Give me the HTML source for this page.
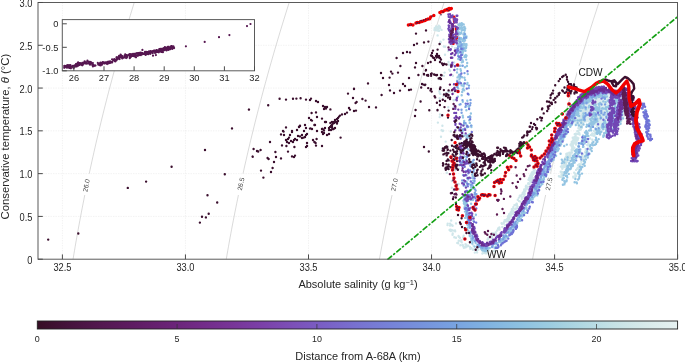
<!DOCTYPE html>
<html><head><meta charset="utf-8"><style>
html,body{margin:0;padding:0;background:#fff;}
body{width:685px;height:362px;overflow:hidden;}
svg{display:block;}
text{font-family:"Liberation Sans", Arial, sans-serif;fill:#262626;}
.g{stroke:#ededed;stroke-width:0.7;stroke-dasharray:1.4 1.1;fill:none;}
.iso{stroke:#b4b4b4;stroke-width:0.5;fill:none;}
.isol{font-size:6.6px;fill:#444;}
.tk{stroke:#4a4a4a;stroke-width:1;}
.tl{font-size:9.3px;}
.tc{font-size:9.4px;}
.al{font-size:11px;}
.lab{font-size:10.1px;fill:#111;}
</style></head><body>
<svg width="685" height="362" viewBox="0 0 685 362">
<line x1="62.40" y1="2.5" x2="62.40" y2="259.2" class="g"/>
<line x1="185.45" y1="2.5" x2="185.45" y2="259.2" class="g"/>
<line x1="308.50" y1="2.5" x2="308.50" y2="259.2" class="g"/>
<line x1="431.55" y1="2.5" x2="431.55" y2="259.2" class="g"/>
<line x1="554.60" y1="2.5" x2="554.60" y2="259.2" class="g"/>
<line x1="38.0" y1="216.41" x2="677.5" y2="216.41" class="g"/>
<line x1="38.0" y1="173.63" x2="677.5" y2="173.63" class="g"/>
<line x1="38.0" y1="130.84" x2="677.5" y2="130.84" class="g"/>
<line x1="38.0" y1="88.06" x2="677.5" y2="88.06" class="g"/>
<line x1="38.0" y1="45.28" x2="677.5" y2="45.28" class="g"/>
<polyline class="iso" clip-path="url(#clipax)" points="72.37,263.48 73.07,259.20 73.77,254.92 74.49,250.64 75.21,246.36 75.95,242.09 76.70,237.81 77.46,233.53 78.23,229.25 79.01,224.97 79.80,220.69 80.61,216.41 81.42,212.14 82.24,207.86 83.08,203.58 83.93,199.30 84.78,195.02"/>
<polyline class="iso" clip-path="url(#clipax)" points="89.23,173.63 90.15,169.35 91.08,165.07 92.02,160.79 92.97,156.52 93.94,152.24 94.91,147.96 95.89,143.68 96.89,139.40 97.90,135.12 98.91,130.85 99.94,126.57 100.98,122.29 102.02,118.01 103.08,113.73 104.15,109.45 105.23,105.17 106.32,100.90 107.42,96.62 108.53,92.34 109.65,88.06 110.79,83.78 111.93,79.50 113.08,75.22 114.24,70.95 115.42,66.67 116.60,62.39 117.79,58.11 119.00,53.83 120.21,49.55 121.44,45.28 122.68,41.00 123.92,36.72 125.18,32.44 126.44,28.16 127.72,23.88 129.01,19.60 130.31,15.33 131.61,11.05 132.93,6.77 134.26,2.49 135.60,-1.79"/>
<text class="isol" transform="translate(86.3,185.4) rotate(-78.3)" text-anchor="middle" dy="2.3">26.0</text>
<polyline class="iso" clip-path="url(#clipax)" points="225.54,263.48 226.27,259.20 227.00,254.92 227.75,250.64 228.50,246.36 229.27,242.09 230.05,237.81 230.84,233.53 231.64,229.25 232.45,224.97 233.28,220.69 234.11,216.41 234.95,212.14 235.81,207.86 236.67,203.58 237.55,199.30 238.43,195.02"/>
<polyline class="iso" clip-path="url(#clipax)" points="243.02,173.63 243.97,169.35 244.93,165.07 245.91,160.79 246.89,156.52 247.88,152.24 248.88,147.96 249.90,143.68 250.92,139.40 251.96,135.12 253.00,130.85 254.06,126.57 255.12,122.29 256.20,118.01 257.29,113.73 258.38,109.45 259.49,105.17 260.61,100.90 261.74,96.62 262.88,92.34 264.03,88.06 265.19,83.78 266.36,79.50 267.54,75.22 268.73,70.95 269.93,66.67 271.15,62.39 272.37,58.11 273.60,53.83 274.84,49.55 276.10,45.28 277.36,41.00 278.63,36.72 279.92,32.44 281.21,28.16 282.52,23.88 283.83,19.60 285.16,15.33 286.49,11.05 287.84,6.77 289.19,2.49 290.56,-1.79"/>
<text class="isol" transform="translate(240.9,184.0) rotate(-77.9)" text-anchor="middle" dy="2.3">26.5</text>
<polyline class="iso" clip-path="url(#clipax)" points="378.68,263.48 379.44,259.20 380.21,254.92 380.98,250.64 381.77,246.36 382.57,242.09 383.38,237.81 384.20,233.53 385.03,229.25 385.87,224.97 386.72,220.69 387.58,216.41 388.46,212.14 389.34,207.86 390.23,203.58 391.14,199.30 392.06,195.02"/>
<polyline class="iso" clip-path="url(#clipax)" points="396.79,173.63 397.77,169.35 398.76,165.07 399.76,160.79 400.77,156.52 401.80,152.24 402.83,147.96 403.87,143.68 404.92,139.40 405.99,135.12 407.06,130.85 408.15,126.57 409.24,122.29 410.35,118.01 411.46,113.73 412.59,109.45 413.72,105.17 414.87,100.90 416.03,96.62 417.20,92.34 418.37,88.06 419.56,83.78 420.76,79.50 421.97,75.22 423.19,70.95 424.42,66.67 425.66,62.39 426.91,58.11 428.17,53.83 429.44,49.55 430.72,45.28 432.02,41.00 433.32,36.72 434.63,32.44 435.95,28.16 437.28,23.88 438.63,19.60 439.98,15.33 441.34,11.05 442.71,6.77 444.10,2.49 445.49,-1.79"/>
<text class="isol" transform="translate(394.3,184.8) rotate(-77.5)" text-anchor="middle" dy="2.3">27.0</text>
<polyline class="iso" clip-path="url(#clipax)" points="531.80,263.48 532.59,259.20 533.38,254.92 534.19,250.64 535.01,246.36 535.84,242.09 536.67,237.81 537.52,233.53 538.38,229.25 539.26,224.97 540.14,220.69 541.03,216.41 541.93,212.14 542.85,207.86 543.77,203.58 544.70,199.30 545.65,195.02"/>
<polyline class="iso" clip-path="url(#clipax)" points="550.53,173.63 551.54,169.35 552.56,165.07 553.59,160.79 554.63,156.52 555.68,152.24 556.74,147.96 557.81,143.68 558.90,139.40 559.99,135.12 561.09,130.85 562.21,126.57 563.33,122.29 564.46,118.01 565.61,113.73 566.76,109.45 567.93,105.17 569.10,100.90 570.29,96.62 571.48,92.34 572.69,88.06 573.91,83.78 575.13,79.50 576.37,75.22 577.62,70.95 578.88,66.67 580.14,62.39 581.42,58.11 582.71,53.83 584.01,49.55 585.32,45.28 586.64,41.00 587.97,36.72 589.31,32.44 590.66,28.16 592.02,23.88 593.39,19.60 594.77,15.33 596.16,11.05 597.56,6.77 598.97,2.49 600.39,-1.79"/>
<text class="isol" transform="translate(548.9,183.9) rotate(-77.1)" text-anchor="middle" dy="2.3">27.5</text>
<defs><clipPath id="clipax"><rect x="38" y="2.5" width="639.5" height="256.7"/></clipPath></defs><g clip-path="url(#clipax)"><polyline points="454.0,17.0 454.5,22.0" stroke="#f20000" stroke-width="3.0" fill="none" stroke-linecap="round" stroke-linejoin="round"/>
<polyline points="456.2,28.0 456.8,34.0 456.8,40.0" stroke="#f20000" stroke-width="3.0" fill="none" stroke-linecap="round" stroke-linejoin="round"/>
<path d="M453.0 26.0h0M453.2 43.4h0M455.0 142.7h0M459.7 149.0h0M458.5 138.0h0M455.2 142.6h0M459.9 149.0h0M457.0 146.0h0" stroke="#f20000" stroke-width="3.20" stroke-linecap="round" fill="none"/>
<polygon points="566.0,120.0 574.0,108.0 582.0,99.0 590.0,95.0 600.0,92.0 612.0,94.0 625.0,94.0 628.0,110.0 620.0,126.0 610.0,132.0 600.0,128.0 588.0,122.0 578.0,125.0" fill="#cfe6ea" fill-opacity="0.7"/>
<path d="M438.9 30.4h0M439.9 26.7h0M436.6 30.3h0M434.5 30.0h0M440.1 28.1h0M436.6 27.0h0M436.3 27.9h0M438.0 28.5h0M441.5 29.9h0M438.9 30.9h0M436.0 26.4h0M438.8 25.7h0M434.7 28.3h0M437.8 30.5h0M438.9 28.3h0M438.0 26.9h0M437.6 35.4h0M455.4 50.4h0M445.1 46.7h0M453.6 41.6h0M448.2 51.1h0M443.8 46.5h0M451.5 57.5h0M439.9 58.1h0M452.4 35.8h0M445.0 54.8h0M452.1 46.4h0M450.8 38.3h0M440.8 42.2h0M440.4 41.7h0M455.0 48.1h0M443.5 39.6h0M440.3 93.9h0M455.8 86.9h0M453.2 92.9h0M449.2 69.6h0M448.5 62.0h0M453.0 108.0h0M454.1 62.5h0M443.8 75.9h0M439.3 91.3h0M452.9 75.7h0M454.3 99.9h0M439.6 98.3h0M454.7 69.9h0M448.5 91.9h0M449.2 64.8h0M450.2 91.6h0M453.5 100.2h0M443.5 96.1h0M454.3 104.6h0M440.2 61.3h0M450.0 70.7h0M448.3 107.2h0M444.6 72.6h0M446.1 92.9h0M439.0 79.0h0M439.7 93.1h0M442.4 125.8h0M442.0 115.0h0M439.7 117.1h0M455.9 129.4h0M441.0 136.8h0M442.8 131.1h0M443.2 130.6h0M450.8 131.4h0M445.7 141.6h0M456.2 117.2h0M440.0 114.5h0M458.6 147.7h0M442.1 148.8h0M441.6 130.3h0M447.9 146.6h0M437.9 122.6h0M446.8 172.7h0M457.3 185.4h0M453.5 190.4h0M451.9 181.0h0M458.6 183.9h0M455.2 170.3h0M453.6 169.8h0M457.1 169.0h0M451.9 187.8h0M452.6 166.9h0M458.7 169.0h0M459.0 189.3h0M453.1 230.6h0M450.9 231.0h0M452.6 225.7h0M467.2 246.3h0M461.5 240.1h0M484.5 252.9h0M482.8 251.2h0M451.9 230.2h0M473.8 249.4h0M463.2 246.2h0M447.5 225.1h0M455.0 230.5h0M483.2 250.5h0M450.6 229.7h0M460.4 245.3h0M463.9 247.7h0M481.9 249.8h0M462.7 245.0h0M468.2 245.7h0M473.0 249.8h0M458.7 240.8h0M485.9 249.8h0M473.7 249.6h0M476.7 250.7h0M490.1 248.0h0M459.9 237.8h0M477.1 252.4h0M465.5 244.2h0M457.3 242.9h0M474.8 252.6h0M450.1 230.5h0M484.8 253.1h0M489.3 248.3h0M476.1 249.1h0M460.6 240.7h0M466.2 244.8h0M458.5 235.9h0M449.6 229.9h0M486.8 253.3h0M486.4 252.2h0M471.5 248.2h0M454.3 237.3h0M494.1 251.0h0M461.7 242.2h0M469.9 246.9h0M487.1 249.5h0M450.1 223.6h0M452.7 233.4h0M478.4 249.6h0M488.7 250.3h0M486.0 250.8h0M452.5 234.8h0M482.0 249.5h0M450.0 225.6h0M470.3 248.8h0M465.4 246.8h0M485.7 253.2h0M482.4 253.5h0M447.7 223.6h0M461.4 241.8h0M451.7 225.0h0M463.7 235.8h0M451.2 220.5h0M456.0 237.7h0M473.5 245.4h0M455.2 231.2h0M459.1 237.0h0M456.0 223.4h0M465.7 247.2h0M458.2 243.3h0M463.1 237.4h0M531.6 175.4h0M509.3 218.8h0M524.7 193.5h0M526.1 185.6h0M511.7 211.0h0M492.9 234.4h0M527.0 186.9h0M516.9 204.5h0M519.0 201.1h0M533.1 174.5h0M528.8 183.9h0M522.2 197.5h0M530.3 175.8h0M534.8 166.6h0M518.9 197.6h0M506.8 219.9h0M534.8 169.8h0M508.0 216.3h0M528.5 179.8h0M531.9 176.4h0M531.4 173.5h0M529.2 178.6h0M488.3 238.7h0M530.9 180.9h0M488.3 238.6h0M527.9 186.8h0M523.7 192.7h0M531.7 175.1h0M508.4 216.5h0M498.1 228.4h0M533.9 173.0h0M491.1 237.3h0M510.8 212.3h0M531.1 181.8h0M529.5 184.0h0M491.5 235.8h0M503.3 223.6h0M525.3 191.0h0M522.6 193.3h0M534.6 169.6h0M533.6 169.7h0M496.3 234.2h0M532.2 172.3h0M523.9 196.4h0M509.4 213.9h0M505.7 221.4h0M515.2 205.0h0M516.9 208.4h0M520.4 201.6h0M513.3 207.2h0M509.7 216.2h0M523.2 194.1h0M516.4 205.4h0M508.2 217.2h0M538.2 165.1h0M498.3 229.2h0M534.7 172.5h0M516.7 203.6h0M507.4 218.7h0M532.4 174.2h0M526.1 189.1h0M495.3 233.9h0M536.4 166.3h0M511.8 209.2h0M509.2 214.2h0M513.1 213.5h0M531.7 174.0h0M504.8 221.4h0M529.4 178.7h0M530.7 179.0h0M535.8 172.6h0M531.1 177.5h0M493.4 234.6h0M494.7 234.1h0M533.5 167.9h0M514.4 205.1h0M535.4 162.7h0M499.3 228.3h0M505.3 225.2h0M513.4 208.4h0M524.4 193.3h0M499.4 227.5h0M492.8 233.1h0M521.8 198.7h0M521.4 195.3h0M511.0 212.3h0M527.6 187.2h0M497.2 230.5h0M528.3 183.1h0M491.7 238.6h0M531.9 173.5h0M537.9 164.9h0M506.2 220.0h0M513.2 211.0h0M495.6 232.6h0M529.4 177.6h0M532.2 178.2h0M508.7 220.2h0M488.7 237.5h0M516.0 208.4h0M501.9 223.8h0M529.6 180.2h0M501.6 223.3h0M537.7 163.6h0M530.4 181.8h0M524.4 193.8h0M515.4 209.2h0M487.6 239.5h0M530.7 175.2h0M517.8 199.8h0M524.6 190.7h0M495.6 235.0h0M531.9 175.3h0M495.3 233.8h0M531.1 180.8h0M507.3 221.3h0M533.7 172.1h0M509.7 216.7h0M504.6 220.9h0M524.4 193.1h0M509.1 215.0h0M511.3 214.6h0M522.9 192.8h0M508.5 220.6h0M519.8 195.7h0M524.6 194.4h0M530.6 181.2h0M524.2 189.4h0M532.0 179.2h0M509.2 216.6h0M508.0 219.2h0M535.4 165.8h0M495.7 232.4h0M525.8 186.6h0M528.1 183.8h0M538.4 163.4h0M526.8 189.1h0M524.3 193.8h0M505.4 221.0h0M524.1 191.2h0M492.2 237.3h0M517.6 206.5h0M488.5 237.9h0M511.2 212.8h0M503.8 223.0h0M537.8 165.5h0M504.6 220.3h0M532.9 177.9h0M502.3 227.0h0M504.0 222.1h0M491.6 237.4h0M525.9 187.9h0M499.6 229.6h0M530.7 176.4h0M510.7 216.5h0M492.2 235.6h0M494.7 235.2h0M521.6 197.1h0M573.4 138.7h0M562.3 173.3h0M563.4 167.3h0M569.5 157.1h0M575.0 142.5h0M579.3 133.3h0M574.7 134.3h0M573.9 148.6h0M567.3 155.1h0M581.7 116.2h0M580.0 119.1h0M583.0 113.3h0M572.0 152.5h0M582.4 111.0h0M571.8 146.6h0M572.2 148.3h0M570.8 145.0h0M573.7 150.2h0M573.0 143.0h0M581.1 118.2h0M566.1 158.2h0M562.6 174.4h0M572.7 140.8h0M584.5 117.9h0M569.6 154.9h0M572.0 142.9h0M566.3 154.0h0M570.5 154.3h0M581.5 122.7h0M583.5 108.7h0M578.4 131.0h0M581.7 127.9h0M568.2 158.1h0M572.3 144.9h0M560.7 171.8h0M569.8 155.8h0M582.0 125.7h0M566.9 155.0h0M582.0 122.3h0M570.0 154.9h0M570.5 155.0h0M585.6 113.4h0M576.7 140.1h0M585.4 112.0h0M570.2 156.4h0M562.3 167.9h0M576.0 144.5h0M584.0 118.1h0M578.4 125.0h0M578.0 133.9h0M565.1 158.2h0M565.0 166.8h0M558.9 176.3h0M586.7 111.3h0M571.7 142.0h0M560.9 166.6h0M564.8 161.2h0M570.1 154.8h0M578.4 128.2h0M575.7 134.5h0M584.1 110.8h0M579.5 124.9h0M580.3 129.9h0M571.3 143.9h0M585.5 113.7h0M563.9 165.7h0M581.2 123.1h0M583.0 122.9h0M581.4 124.3h0M579.0 125.2h0M562.4 177.7h0M573.7 143.6h0M583.0 117.4h0M566.1 165.3h0M574.4 147.6h0M577.2 137.9h0M568.7 156.8h0M577.4 137.6h0M584.0 116.6h0M562.2 176.0h0M565.9 157.2h0M570.5 144.7h0M565.9 163.7h0M565.6 163.3h0M574.4 138.7h0M569.7 155.9h0M569.7 157.8h0M571.6 145.9h0M571.6 150.0h0M577.8 139.8h0M580.8 128.3h0M567.5 153.5h0M569.0 160.2h0M562.0 166.1h0M574.9 138.5h0M580.8 118.2h0M579.3 128.8h0M578.9 126.8h0M573.6 140.4h0M582.9 123.4h0M581.0 128.9h0M563.8 164.3h0M568.3 156.1h0M578.3 131.2h0M586.5 110.4h0M572.7 137.8h0M580.3 125.3h0M572.7 144.4h0M578.3 138.1h0M561.7 175.6h0M570.9 152.4h0M584.0 107.3h0M561.9 176.8h0M582.1 120.8h0M576.0 134.5h0M562.3 168.7h0M577.4 131.4h0M576.2 140.5h0M568.3 160.3h0M579.6 134.5h0M567.7 156.3h0M561.5 174.2h0M583.9 115.5h0M582.1 114.8h0M566.7 162.3h0M587.2 109.4h0M560.2 176.8h0M561.9 171.9h0M577.3 131.3h0M564.2 165.4h0M576.4 142.9h0M572.9 146.0h0M571.7 152.3h0M580.9 127.1h0M572.7 141.4h0M563.3 161.6h0M566.0 156.5h0M583.7 119.4h0M576.2 137.7h0M574.3 137.3h0M575.9 133.6h0M584.1 120.8h0M567.8 160.3h0M575.6 136.4h0M576.9 140.8h0M588.6 108.6h0M584.7 117.5h0M574.3 140.3h0M569.3 152.6h0M578.1 172.7h0M585.1 156.4h0M595.6 132.7h0M596.9 126.1h0M594.2 135.7h0M573.2 176.6h0M587.9 145.3h0M597.7 122.4h0M592.3 139.7h0M579.6 167.1h0M575.3 173.6h0M582.0 154.9h0M580.7 158.6h0M588.3 141.6h0M589.7 145.3h0M592.4 133.7h0M598.8 119.0h0M601.6 113.2h0M595.5 128.2h0M581.0 164.3h0M595.0 130.9h0M597.7 124.0h0M594.6 133.3h0M577.2 168.7h0M600.0 119.6h0M579.2 170.8h0M588.5 143.2h0M596.7 121.4h0M579.3 164.3h0M595.9 129.5h0M582.3 156.1h0M582.8 158.1h0M575.4 173.9h0M581.3 161.7h0M592.3 133.5h0M602.4 111.2h0M585.1 152.1h0M580.1 166.6h0M587.3 144.9h0M578.2 165.2h0M593.8 135.8h0M586.9 152.5h0M592.0 142.7h0M576.1 169.9h0M575.6 173.9h0M575.4 176.7h0M574.2 172.6h0M597.1 121.8h0M597.1 126.2h0M575.7 174.9h0M585.7 151.0h0M577.8 168.0h0M591.0 135.0h0M585.7 148.9h0M602.0 115.7h0M599.7 115.0h0M602.5 117.3h0M576.2 176.0h0M592.6 135.4h0M583.3 160.5h0M583.4 158.0h0M595.1 134.2h0M582.4 155.0h0M594.0 130.9h0M600.6 118.3h0M575.3 175.1h0M584.0 157.5h0M596.3 123.8h0M602.5 113.1h0M580.6 166.0h0M583.3 154.0h0M590.1 138.5h0M573.3 177.6h0M584.9 157.9h0M588.6 148.4h0M578.0 165.1h0" stroke="#cfe6ea" stroke-width="2.40" stroke-linecap="round" fill="none"/>
<path d="M457.6 48.1h0M459.5 46.6h0M460.8 46.4h0M459.6 40.4h0M462.2 46.2h0M459.0 58.6h0M459.9 34.0h0M459.6 25.0h0M461.2 51.4h0M464.1 29.8h0M458.4 34.6h0M464.7 40.8h0M466.2 47.1h0M463.2 51.3h0M464.5 35.4h0M459.6 38.9h0M461.9 27.8h0M461.4 46.5h0M458.4 27.7h0M458.7 33.1h0M458.8 28.7h0M461.7 23.1h0M461.6 28.6h0M459.7 52.2h0M458.8 45.6h0M461.1 38.2h0M465.2 28.5h0M466.2 56.0h0M463.7 24.4h0M463.6 45.0h0M464.7 30.5h0M466.5 55.7h0M458.1 34.3h0M466.2 59.6h0M463.1 47.5h0M463.8 43.9h0M466.5 45.3h0M460.4 41.7h0M463.9 38.3h0M465.5 50.8h0M460.4 25.4h0M458.3 29.4h0M460.0 39.3h0M466.0 48.0h0M465.5 37.6h0M459.5 27.8h0M465.0 48.2h0M459.1 32.5h0M464.0 27.4h0M462.2 23.8h0M462.5 54.2h0M457.8 32.8h0M464.6 45.3h0M460.1 46.1h0M461.5 54.8h0M459.9 50.9h0M463.4 50.3h0M460.8 49.7h0M464.0 37.0h0M464.1 30.2h0M464.3 33.0h0M461.7 54.7h0M461.5 33.3h0M460.1 25.4h0M459.2 32.7h0M458.7 24.9h0M461.7 30.5h0M464.4 57.1h0M459.7 44.0h0M462.1 25.3h0M458.2 55.7h0M461.7 52.7h0M457.7 44.8h0M465.7 55.0h0M460.7 51.0h0M457.7 32.4h0M465.1 40.1h0M461.5 58.8h0M460.2 24.1h0M460.9 28.3h0M457.8 43.8h0M466.5 44.2h0M463.5 34.6h0M462.7 50.7h0M462.9 52.6h0M462.5 29.9h0M462.8 40.9h0M458.7 45.7h0M462.4 50.0h0M461.0 32.6h0M460.7 42.8h0M463.9 43.5h0M458.1 53.2h0M459.5 29.0h0M465.5 56.6h0M457.4 35.0h0M458.9 40.1h0M458.7 40.8h0M462.2 50.5h0M461.4 27.8h0M460.5 59.3h0M464.5 26.9h0M465.1 34.2h0M461.6 47.3h0M462.1 28.7h0M458.4 33.2h0M457.5 30.6h0M458.3 39.9h0M460.6 44.5h0M459.8 23.8h0M460.3 50.8h0M459.6 37.7h0M464.5 37.8h0M465.9 56.9h0M460.1 50.1h0M459.5 27.7h0M461.4 45.1h0M464.1 40.3h0M458.3 59.0h0M464.0 27.3h0M457.9 34.9h0M466.2 45.4h0M457.7 43.8h0M461.6 43.6h0M464.4 47.9h0M465.1 37.9h0M464.8 55.9h0M461.5 57.9h0M466.5 36.5h0M466.4 37.7h0M460.7 50.9h0M461.7 39.3h0M460.9 38.7h0M458.4 24.8h0M464.5 43.7h0M460.5 69.2h0M459.9 82.3h0M471.4 127.0h0M469.8 122.9h0M461.7 95.2h0M463.6 86.4h0M463.3 129.4h0M458.1 84.9h0M464.2 120.9h0M466.7 125.2h0M458.6 76.3h0M461.6 85.4h0M468.3 149.4h0M467.2 63.0h0M461.5 132.3h0M470.9 113.5h0M462.2 92.0h0M466.5 137.8h0M462.1 77.2h0M457.0 72.4h0M469.8 116.2h0M462.5 131.6h0M466.9 66.0h0M463.0 117.4h0M467.3 100.7h0M459.8 146.9h0M464.0 124.6h0M465.0 67.3h0M460.6 65.7h0M459.9 78.0h0M463.2 89.0h0M462.4 133.5h0M457.3 69.3h0M469.1 108.1h0M463.6 84.1h0M465.1 79.9h0M469.9 134.2h0M461.8 62.2h0M466.9 137.2h0M469.0 137.6h0M464.3 135.8h0M463.9 83.7h0M464.2 90.2h0M468.5 134.9h0M459.1 74.8h0M462.8 101.7h0M471.3 144.8h0M471.5 125.7h0M467.2 84.3h0M462.6 60.2h0M458.2 88.4h0M461.8 125.2h0M457.1 80.7h0M470.4 136.9h0M466.4 110.3h0M460.3 138.8h0M468.4 106.2h0M459.4 79.4h0M462.7 89.8h0M457.9 96.6h0M463.7 85.8h0M462.8 89.9h0M462.7 115.7h0M464.5 77.8h0M468.9 106.2h0M463.9 124.2h0M468.3 136.4h0M469.2 120.2h0M467.8 74.1h0M467.5 82.9h0M460.9 70.8h0M463.0 61.8h0M466.9 127.3h0M466.6 135.4h0M457.5 77.4h0M472.2 174.6h0M469.3 184.1h0M470.6 194.7h0M461.0 159.5h0M472.8 153.3h0M465.9 159.6h0M465.1 192.8h0M471.4 185.2h0M471.0 187.2h0M472.5 185.7h0M460.3 154.2h0M472.9 180.6h0M463.7 150.5h0M468.6 154.5h0M472.5 167.0h0M467.9 155.0h0M473.0 178.0h0M471.3 166.8h0M474.4 169.0h0M472.2 164.6h0M466.6 181.8h0M463.0 174.9h0M464.9 161.8h0M470.7 185.2h0M473.8 163.2h0M462.1 151.0h0M466.5 156.8h0M472.7 176.7h0M476.1 196.4h0M473.9 176.6h0M464.4 182.6h0M460.2 150.7h0M471.9 167.1h0M471.6 189.0h0M474.0 180.8h0M474.2 182.9h0M475.7 194.8h0M466.0 162.6h0M472.7 161.2h0M472.7 172.4h0M461.5 163.5h0M465.8 186.0h0M464.3 156.5h0M474.5 194.6h0M471.3 187.4h0M468.7 223.6h0M508.5 230.3h0M527.0 209.7h0M465.1 217.9h0M521.6 214.2h0M510.2 231.2h0M487.7 249.3h0M523.3 210.7h0M517.6 219.5h0M497.9 244.7h0M520.2 220.7h0M507.7 236.7h0M505.1 235.9h0M468.1 214.7h0M519.0 218.0h0M467.1 201.0h0M474.6 246.6h0M468.5 226.0h0M516.1 225.3h0M503.3 237.8h0M494.7 248.0h0M481.0 248.6h0M514.9 225.7h0M471.6 238.9h0M515.2 226.3h0M531.5 196.6h0M467.0 203.7h0M509.4 231.3h0M522.9 215.8h0M484.6 251.1h0M464.7 199.6h0M466.1 216.5h0M481.9 247.1h0M485.8 251.1h0M501.6 241.0h0M471.8 240.1h0M522.1 216.4h0M466.3 196.9h0M464.6 203.1h0M465.9 215.4h0M509.3 233.6h0M468.7 219.4h0M472.4 241.6h0M515.5 226.4h0M464.8 200.4h0M520.9 215.2h0M471.3 240.4h0M467.7 214.2h0M505.4 235.2h0M485.9 250.1h0M465.3 206.8h0M502.8 238.7h0M523.8 213.0h0M467.3 224.6h0M467.1 200.3h0M492.5 246.5h0M467.4 228.1h0M513.4 228.4h0M473.1 238.3h0M470.5 236.4h0M465.2 203.7h0M467.2 214.6h0M526.6 202.9h0M510.6 229.4h0M532.6 199.3h0M464.9 202.2h0M526.3 205.3h0M506.2 237.4h0M466.6 222.5h0M501.8 239.3h0M521.6 213.6h0M483.2 248.5h0M472.8 240.6h0M529.9 199.8h0M470.4 233.9h0M520.8 218.7h0M510.9 231.8h0M465.5 201.1h0M464.6 207.3h0M465.5 205.0h0M463.2 196.3h0M481.8 249.6h0M529.4 202.4h0M512.3 229.6h0M472.5 242.6h0M509.2 233.7h0M520.6 219.1h0M466.2 203.6h0M481.4 248.0h0M518.6 219.2h0M464.7 207.2h0M496.0 247.0h0M487.6 248.3h0M489.6 247.9h0M467.7 218.4h0M503.8 240.5h0M465.2 206.7h0M516.8 224.8h0M464.7 198.0h0M484.7 249.5h0M478.4 247.0h0M523.4 215.6h0M468.2 230.6h0M466.0 197.1h0M472.3 240.2h0M525.2 212.8h0M530.9 199.7h0M465.0 211.6h0M521.9 215.2h0M523.7 214.0h0M510.2 228.5h0M526.0 205.8h0M469.8 227.6h0M466.4 209.6h0M514.6 224.2h0M515.9 226.6h0M512.0 231.0h0M467.2 213.3h0M495.5 246.7h0M501.3 241.3h0M467.0 228.8h0M484.4 248.8h0M466.7 223.0h0M506.5 233.0h0M480.8 247.5h0M531.0 198.1h0M470.1 232.4h0M497.4 243.2h0M525.1 208.4h0M465.1 197.9h0M487.0 249.1h0M472.2 240.8h0M510.3 232.7h0M464.3 204.3h0M526.4 208.4h0M467.4 211.4h0M504.6 238.0h0M499.3 241.7h0M467.5 216.7h0M478.9 246.2h0M472.8 237.7h0M513.0 226.9h0M526.8 203.6h0M499.5 241.5h0M465.9 201.1h0M471.3 231.7h0M468.7 225.1h0M472.3 243.5h0M504.1 238.8h0M514.0 223.3h0M524.1 212.7h0M533.3 197.6h0M519.8 215.9h0M505.3 236.7h0M513.1 225.7h0M517.4 222.7h0M512.1 230.0h0M472.8 238.4h0M475.7 243.0h0M514.7 222.7h0M465.3 203.4h0M484.8 248.2h0M505.8 236.3h0M513.4 227.9h0M464.8 204.3h0M501.3 241.4h0M517.8 217.8h0M477.4 245.4h0M467.1 212.3h0M501.3 241.1h0M466.5 198.4h0M486.2 247.9h0M534.6 196.2h0M484.1 250.4h0M468.4 217.8h0M520.3 219.2h0M499.1 240.3h0M496.4 244.0h0M463.9 203.3h0M500.7 242.6h0M531.9 197.4h0M518.6 220.8h0M465.6 196.7h0M464.1 202.8h0M508.9 230.0h0M527.1 204.4h0M521.7 212.5h0M466.0 205.4h0M469.7 235.7h0M504.7 239.6h0M466.7 196.3h0M482.5 250.2h0M463.5 200.8h0M471.3 238.8h0M466.7 203.6h0M500.8 239.4h0M514.7 223.1h0M467.2 222.6h0M495.6 247.1h0M501.7 239.1h0M526.5 207.9h0M467.9 214.3h0M506.3 237.5h0M517.6 219.6h0M502.1 241.4h0M578.6 109.9h0M549.5 158.0h0M578.5 110.1h0M580.4 107.4h0M543.8 177.8h0M558.0 150.4h0M560.4 145.6h0M552.9 154.6h0M581.6 103.9h0M598.6 93.9h0M541.8 183.3h0M566.6 132.5h0M544.0 179.2h0M566.2 133.7h0M575.5 114.5h0M570.9 125.1h0M539.3 185.9h0M536.7 191.1h0M590.7 100.6h0M557.4 149.4h0M570.9 124.0h0M583.9 106.5h0M535.4 192.1h0M573.5 119.9h0M591.8 96.2h0M592.4 97.6h0M581.9 107.6h0M553.6 159.7h0M565.1 136.6h0M562.1 140.5h0M542.5 180.5h0M548.9 168.2h0M571.6 121.3h0M543.0 173.3h0M548.7 158.1h0M540.8 185.4h0M584.8 103.3h0M546.1 172.1h0M573.9 117.5h0M544.5 176.1h0M551.8 160.9h0M558.5 143.9h0M572.1 121.4h0M556.2 146.1h0M564.7 133.4h0M580.4 107.3h0M560.8 140.2h0M580.3 105.0h0M598.6 93.9h0M565.1 132.6h0M571.5 115.9h0M573.7 119.8h0M593.5 96.4h0M561.5 141.6h0M587.7 99.4h0M552.8 160.0h0M589.5 97.4h0M560.9 135.8h0M539.9 185.4h0M572.1 122.7h0M551.3 156.1h0M600.3 94.9h0M564.8 135.5h0M583.8 101.3h0M558.5 142.9h0M538.2 188.1h0M566.1 127.8h0M569.3 120.2h0M572.1 123.4h0M537.7 183.8h0M537.2 194.3h0M571.4 123.6h0M560.4 139.3h0M588.9 101.6h0M544.2 168.5h0M575.4 114.4h0M546.0 166.2h0M540.1 182.1h0M568.1 129.3h0M555.9 144.7h0M559.9 145.1h0M542.4 171.4h0M545.1 175.0h0M571.6 118.0h0M556.1 150.0h0M578.0 114.0h0M558.1 148.8h0M576.1 108.7h0M554.6 150.2h0M554.0 153.7h0M548.7 165.8h0M566.1 124.1h0M557.7 149.4h0M547.3 171.3h0M539.1 190.6h0M597.3 94.6h0M553.3 151.5h0M599.3 96.9h0M558.1 146.3h0M535.3 191.9h0M605.9 92.6h0M564.7 129.1h0M600.9 96.4h0M577.6 112.7h0M544.1 171.8h0M549.0 168.9h0M561.0 140.2h0M536.0 191.6h0M550.9 157.9h0M534.1 195.0h0M566.2 127.4h0M577.5 114.3h0M546.5 167.8h0M533.5 193.4h0M544.9 171.5h0M557.2 151.1h0M553.5 155.8h0M581.3 103.0h0M574.4 114.4h0M537.2 189.6h0M556.5 143.4h0M578.1 115.0h0M604.4 97.3h0M556.7 144.3h0M559.8 141.8h0M554.9 149.2h0M596.8 95.0h0M560.0 138.3h0M551.8 152.3h0M554.7 154.6h0M564.8 131.1h0M590.5 100.0h0M561.9 141.5h0M573.3 117.8h0M552.2 154.6h0M554.3 149.0h0M553.2 156.7h0M541.6 181.2h0M543.4 179.4h0M561.6 135.1h0M567.0 123.3h0M606.8 96.5h0M548.6 166.1h0M592.4 95.7h0M561.1 140.2h0M535.6 186.6h0M591.9 98.3h0M554.3 153.9h0M600.7 96.2h0M558.4 139.2h0M592.8 99.7h0M558.8 148.7h0M580.8 110.8h0M541.5 182.5h0M543.6 172.8h0M546.6 174.4h0M563.8 134.6h0M565.7 133.3h0M545.4 172.5h0M575.8 110.9h0M583.7 105.7h0M576.3 113.1h0M563.7 130.9h0M573.0 116.9h0M589.5 97.4h0M573.1 116.7h0M572.0 124.5h0M534.3 193.9h0M553.5 153.2h0M547.5 170.4h0M549.6 156.8h0M550.9 155.1h0M585.2 102.8h0M546.1 164.6h0M551.4 161.2h0M557.5 150.2h0M547.6 167.3h0M554.8 147.1h0M605.1 93.7h0M553.6 155.6h0M549.6 169.4h0M535.2 194.7h0M602.6 96.1h0M590.0 99.3h0M547.7 164.9h0M600.9 95.8h0M554.3 147.3h0M569.4 123.7h0M590.4 100.1h0M548.0 163.0h0M589.1 99.9h0M560.8 142.8h0M534.4 189.5h0M596.2 98.4h0M539.4 182.6h0M570.6 126.2h0M563.6 132.4h0M575.7 114.8h0M578.4 113.6h0M576.1 114.7h0M573.5 117.0h0M604.1 92.9h0M597.6 96.1h0M573.0 119.3h0M538.5 181.8h0M539.5 182.9h0M582.6 108.0h0M563.2 136.1h0M578.3 107.3h0M596.4 96.9h0M584.9 101.4h0M543.3 181.3h0M558.2 144.7h0M534.6 188.4h0M547.9 162.7h0M535.7 189.0h0M590.8 100.8h0M537.3 186.4h0M541.0 179.6h0M545.9 176.6h0M537.7 184.7h0M580.8 106.9h0M561.2 143.9h0M570.2 126.8h0M595.9 94.7h0M577.6 111.0h0M557.2 144.8h0M566.1 130.7h0M570.2 119.2h0M552.3 154.1h0M562.3 135.3h0M580.7 104.0h0M589.3 101.1h0M542.5 175.2h0M573.6 115.8h0M552.8 152.9h0M577.4 110.0h0M556.4 146.0h0M540.1 181.5h0M574.8 117.1h0M581.4 102.5h0M580.5 107.7h0M538.9 183.8h0M564.5 128.4h0M535.5 187.8h0M570.6 125.8h0M540.9 176.8h0M548.5 161.7h0M564.6 137.0h0M565.8 125.4h0M588.0 98.2h0M586.3 99.2h0M542.0 183.0h0M557.3 142.8h0M603.1 97.3h0M577.3 107.9h0M576.3 113.5h0M564.1 136.5h0M566.1 130.4h0M563.8 135.2h0M597.5 95.7h0M568.4 123.5h0M556.1 155.7h0M541.2 178.6h0M598.7 96.6h0M545.9 170.1h0M537.2 195.4h0M542.6 174.0h0M560.2 138.4h0M566.8 133.4h0M547.9 165.3h0M573.9 117.6h0M536.5 193.0h0M576.8 114.4h0M565.2 135.1h0M546.2 171.2h0M575.9 108.4h0M554.1 156.3h0M585.3 99.0h0M543.5 179.3h0M533.0 194.2h0M572.9 120.6h0M536.7 192.4h0M555.3 145.0h0M573.4 120.8h0M549.3 163.2h0M547.5 162.1h0M548.7 169.1h0M535.1 194.9h0M599.6 95.3h0M575.5 118.1h0M559.7 138.5h0M543.5 171.8h0M605.3 96.9h0M542.6 173.4h0M552.8 158.5h0M555.9 146.4h0M547.6 170.9h0M568.2 125.0h0M576.9 113.2h0M536.2 192.8h0M594.9 96.4h0M555.2 151.2h0M544.0 176.8h0M534.6 190.3h0M590.3 101.1h0M557.4 150.4h0M566.7 126.1h0M537.8 184.7h0M594.0 96.1h0M590.4 100.5h0M599.6 95.0h0M578.2 109.6h0M559.4 145.4h0M547.3 163.0h0M598.8 97.0h0M563.2 138.3h0M541.9 173.1h0M563.0 136.0h0M559.3 143.5h0M542.4 184.0h0M558.5 142.8h0M535.5 192.0h0M549.9 167.1h0M590.3 96.3h0M563.2 139.9h0M547.5 164.2h0M578.7 108.4h0M574.8 120.6h0M539.6 182.6h0M534.7 192.1h0M560.0 137.6h0M560.6 141.8h0M564.2 134.5h0M570.0 120.1h0M544.7 172.1h0M470.8 218.6h0M472.3 198.5h0M466.1 213.8h0M473.4 221.0h0M467.4 208.8h0M466.6 210.8h0M471.0 200.1h0M472.8 224.6h0M469.6 197.0h0M473.0 200.0h0M468.3 200.9h0M473.6 216.9h0M475.9 214.7h0M468.1 222.3h0M467.8 217.1h0M465.3 203.3h0M471.1 203.8h0M474.9 210.5h0M581.8 141.8h0M586.7 139.5h0M593.0 118.8h0M572.7 164.2h0M578.4 146.5h0M595.7 107.9h0M574.2 156.1h0M583.6 138.7h0M595.1 115.9h0M567.2 177.4h0M594.2 123.0h0M575.3 156.9h0M586.3 131.0h0M586.9 139.1h0M578.3 153.8h0M597.0 107.4h0M596.1 116.3h0M593.4 122.5h0M568.4 165.5h0M592.1 126.8h0M573.6 160.4h0M571.1 165.7h0M569.4 169.0h0M574.7 154.3h0M589.0 124.6h0M591.0 124.0h0M580.3 149.5h0M593.2 121.9h0M566.1 173.2h0M575.2 153.8h0M582.3 140.1h0M593.4 123.4h0M580.1 151.5h0M584.3 140.1h0M584.8 138.4h0M568.1 165.6h0M572.9 165.7h0M577.9 153.6h0M577.6 156.2h0M570.6 161.0h0M570.0 164.5h0M573.2 156.4h0M564.7 183.0h0M578.2 151.0h0M567.8 165.6h0M570.8 168.6h0M577.0 151.2h0M583.1 139.6h0M591.3 127.2h0M593.3 113.5h0M578.6 145.7h0M575.7 158.0h0M562.4 179.7h0M564.6 173.4h0M564.4 184.4h0M583.0 135.6h0M594.4 115.9h0M575.1 155.3h0M572.6 158.0h0M569.2 163.1h0M598.5 107.8h0M583.0 146.9h0M593.1 114.1h0M564.4 181.3h0M585.3 135.9h0M583.1 141.4h0M593.8 112.8h0M594.1 114.9h0M573.3 156.6h0M588.8 126.0h0M583.4 146.7h0M594.6 112.9h0M584.9 136.6h0M566.7 180.3h0M568.7 173.9h0M574.7 162.5h0M587.5 134.7h0M577.2 149.4h0M592.0 126.3h0M591.7 118.1h0M591.2 130.4h0M573.4 161.6h0M599.0 108.3h0M576.2 149.7h0M573.1 163.5h0M595.9 107.1h0M574.7 156.9h0M597.3 111.5h0M585.1 139.2h0M599.4 107.1h0M567.3 170.4h0M572.7 159.8h0M587.7 133.1h0M569.3 163.6h0M590.7 123.1h0M582.0 142.1h0M596.2 108.5h0M562.9 184.7h0M594.3 120.5h0M583.0 141.3h0M582.6 141.5h0M595.0 119.4h0M586.8 132.0h0M572.6 160.3h0M582.5 140.9h0M596.0 114.3h0M597.0 110.8h0M597.3 111.5h0M595.7 107.3h0M568.1 167.5h0M574.2 159.8h0M587.1 138.9h0M585.3 138.9h0M586.4 133.7h0M567.3 166.8h0M578.7 153.0h0M564.4 172.3h0M592.0 126.5h0M588.4 135.9h0M593.4 124.5h0M584.6 143.4h0M577.8 154.5h0M568.5 165.4h0M573.4 159.5h0M592.4 116.3h0M599.5 109.0h0M566.7 168.6h0M592.5 126.5h0M587.3 135.9h0M575.9 151.3h0M589.2 126.4h0M596.3 108.1h0M580.8 143.2h0M594.3 118.9h0M574.8 156.9h0M568.1 170.5h0M566.1 171.9h0M591.5 121.2h0M565.9 170.1h0M571.8 157.9h0M595.4 108.0h0M595.1 119.4h0M595.4 120.3h0M567.0 176.0h0M585.7 132.1h0M576.1 152.4h0M595.6 110.0h0M566.5 170.6h0M582.6 141.6h0M566.5 181.2h0M582.9 142.0h0M571.7 159.6h0M578.2 146.4h0M570.5 169.1h0M585.0 132.5h0M592.3 122.2h0M591.6 125.7h0M571.8 163.9h0M575.2 151.0h0M573.1 155.7h0M597.4 109.8h0M563.8 178.2h0M598.5 109.7h0M596.2 107.5h0M572.9 165.4h0M569.5 164.8h0M592.7 121.9h0M571.2 167.3h0M595.2 119.6h0M563.7 175.2h0M591.9 126.4h0M597.2 109.1h0M579.6 152.6h0M589.1 130.5h0M588.8 125.0h0M592.4 124.2h0M573.0 157.2h0M583.6 141.8h0M576.6 157.4h0M572.9 156.8h0M585.0 139.3h0M567.3 169.2h0M563.1 178.5h0M577.8 149.6h0M570.5 165.7h0M581.5 143.9h0M592.3 116.3h0M571.7 166.0h0M589.4 123.8h0M594.6 119.1h0M602.0 126.0h0M603.0 127.0h0M585.6 156.4h0M600.1 134.4h0M602.8 128.9h0M593.4 142.0h0M586.6 153.0h0M588.2 155.3h0M593.0 145.2h0M582.0 173.6h0M587.2 151.3h0M584.5 163.0h0M581.8 167.3h0M594.9 144.8h0M600.1 134.4h0M580.9 169.6h0M596.2 139.4h0M590.0 146.2h0M590.4 149.4h0M583.1 164.4h0M595.6 139.9h0M600.0 134.0h0M585.0 162.0h0M579.3 171.7h0M602.9 129.3h0M576.9 183.3h0M579.0 178.4h0M598.7 139.1h0M578.1 179.5h0M605.3 122.7h0M601.8 127.2h0M576.6 182.5h0M591.8 151.1h0M592.4 143.4h0M596.5 142.3h0M596.0 144.0h0M597.4 141.7h0M598.8 132.7h0M600.8 132.3h0M590.1 146.5h0M589.5 153.7h0M579.8 174.8h0M579.9 169.6h0M590.7 144.9h0M597.2 133.9h0M605.6 123.6h0M580.9 169.0h0M603.3 129.0h0M582.3 167.1h0M584.1 161.0h0M585.9 159.4h0M580.8 168.8h0M579.4 176.4h0M578.2 173.5h0M587.8 157.6h0M605.0 120.7h0M579.7 169.8h0M604.0 122.1h0M575.4 179.0h0M579.9 166.6h0M578.4 172.4h0M574.6 182.3h0M586.2 155.2h0M591.7 148.2h0M596.0 137.8h0M584.1 160.1h0M585.1 156.2h0M597.3 141.2h0M584.7 165.7h0M564.8 159.5h0M567.1 171.7h0M564.2 146.0h0M562.6 161.1h0M567.4 159.9h0M567.5 157.5h0M566.0 175.9h0M564.2 162.5h0M566.8 144.6h0M561.9 163.3h0M567.7 157.4h0M561.8 159.6h0M560.6 153.7h0M567.1 169.7h0M618.4 99.7h0M597.4 121.2h0M586.4 126.7h0M606.1 127.5h0M612.7 111.7h0M583.4 118.3h0M622.1 112.3h0M581.2 106.3h0M612.8 121.8h0M605.6 102.2h0M613.3 129.0h0M595.7 104.8h0M604.5 126.8h0M595.3 117.1h0M612.9 132.4h0M572.8 122.6h0M608.9 100.5h0M607.9 126.6h0M608.9 128.4h0M604.6 114.6h0M627.2 107.7h0M578.3 114.3h0M603.2 108.6h0M625.2 107.3h0M579.2 116.0h0M581.3 120.0h0M585.5 108.8h0M609.2 122.2h0M570.9 117.3h0M602.0 108.5h0M590.2 119.1h0M614.9 126.6h0M618.7 115.9h0M583.5 124.5h0M593.3 110.0h0M617.6 124.6h0M617.2 125.8h0M584.2 116.8h0M595.1 113.1h0M605.3 126.3h0M621.4 113.9h0M590.7 129.8h0M623.4 106.4h0M625.4 110.6h0M618.9 103.6h0M590.9 112.8h0M577.4 110.7h0M579.4 120.6h0M576.5 114.7h0M615.1 104.1h0M603.3 101.4h0M584.8 120.5h0M588.2 102.3h0M587.3 125.8h0M593.0 118.8h0M583.6 119.8h0M581.0 127.0h0M578.5 111.0h0M599.9 131.6h0M569.9 115.9h0M595.4 122.1h0M583.5 113.4h0M617.4 98.1h0M580.9 106.1h0M613.0 103.5h0M586.9 124.6h0M594.7 108.0h0M614.8 100.6h0M622.7 105.3h0M620.4 120.4h0M599.9 115.4h0M594.2 105.1h0M586.5 101.8h0M613.0 131.4h0M591.1 97.6h0M593.6 104.0h0M602.6 124.9h0M620.6 123.8h0M592.1 99.7h0M578.2 113.0h0M609.7 128.7h0M578.0 115.5h0M572.6 117.6h0M619.9 107.8h0M608.7 120.2h0M607.8 100.8h0M598.6 95.4h0M625.9 107.9h0M593.9 115.0h0M620.1 115.5h0M591.5 124.7h0M611.1 114.4h0M621.8 94.8h0M618.1 113.4h0M604.6 108.6h0M588.7 107.2h0M608.6 106.3h0M623.1 118.4h0M578.9 125.4h0M583.2 117.0h0M594.0 108.8h0M620.0 115.0h0M586.6 100.3h0M585.9 101.1h0M607.8 125.0h0M603.8 123.6h0M612.9 117.7h0M579.3 120.5h0M577.6 123.0h0M608.1 107.2h0M603.1 123.6h0M598.7 104.0h0M614.8 95.1h0M576.6 109.0h0M614.5 100.4h0M622.8 95.1h0M584.4 117.6h0M574.0 113.6h0M597.2 118.8h0M623.6 110.6h0M622.5 102.4h0M607.2 111.4h0M614.6 115.4h0M619.2 99.7h0M583.8 116.4h0M606.1 109.3h0M616.2 109.3h0M570.6 120.6h0M619.6 95.2h0M612.3 118.1h0M599.0 104.8h0M612.1 102.5h0M579.0 108.0h0M627.5 110.5h0M576.6 110.2h0M613.9 119.8h0M611.1 128.5h0M585.5 107.9h0M619.4 109.4h0M598.7 128.8h0M605.8 132.3h0M598.6 110.7h0M585.8 109.2h0M617.1 113.5h0M581.2 122.8h0M617.2 110.5h0M575.8 125.0h0M609.5 122.8h0M596.5 106.9h0M577.3 120.4h0M589.3 105.6h0M613.5 114.7h0M601.0 117.5h0M590.7 128.5h0M604.9 96.2h0M621.1 117.3h0M583.4 115.7h0M581.5 126.9h0M599.6 111.4h0M593.8 103.3h0M600.3 103.0h0M587.4 114.9h0M606.1 107.1h0M611.3 108.4h0M622.9 99.4h0M602.7 108.3h0M595.3 98.0h0M588.3 101.1h0M608.6 126.3h0M591.0 120.5h0M599.0 130.5h0M599.5 129.2h0M600.3 132.0h0M598.8 132.6h0M607.8 137.5h0M596.1 129.2h0M603.0 129.0h0M607.0 132.5h0M602.6 128.8h0M596.8 130.2h0M604.2 135.5h0M606.2 133.3h0M603.4 135.4h0M606.1 130.2h0M597.2 131.6h0M599.3 130.1h0M603.3 136.8h0M604.1 133.1h0M596.6 133.0h0M601.4 131.8h0M618.1 106.6h0M619.3 108.4h0M617.5 115.9h0M620.3 118.6h0M617.1 100.6h0M618.0 112.2h0M615.1 100.2h0M619.7 110.9h0M615.1 106.5h0M616.3 107.0h0M620.5 121.0h0M618.6 104.8h0M616.4 100.9h0M620.2 120.7h0M617.3 99.5h0M615.0 107.3h0M617.6 120.7h0M616.2 101.4h0M615.4 103.1h0M619.5 111.6h0M618.5 106.7h0M619.3 108.2h0M618.1 118.6h0M619.4 107.4h0M619.0 108.7h0M614.8 105.4h0M617.8 100.4h0M616.4 112.5h0M617.5 108.5h0M616.6 100.5h0M619.9 117.0h0M618.5 113.3h0M617.7 103.3h0M617.0 110.8h0M615.3 106.2h0" stroke="#93c4e2" stroke-width="2.40" stroke-linecap="round" fill="none"/>
<path d="M464.7 34.1h0M464.0 38.3h0M460.2 42.1h0M462.3 49.3h0M463.4 48.7h0M460.8 48.7h0M460.5 46.3h0M461.6 44.7h0M457.2 42.5h0M459.2 38.5h0M457.7 48.0h0M465.9 37.4h0M458.1 46.7h0M458.3 56.2h0M461.5 109.8h0M466.8 139.2h0M468.2 117.1h0M462.8 129.8h0M470.5 103.1h0M459.5 128.8h0M461.6 112.7h0M464.5 73.1h0M468.3 126.7h0M459.2 83.4h0M469.0 142.1h0M470.1 105.2h0M462.5 100.1h0M459.6 104.6h0M460.5 74.6h0M462.7 65.8h0M464.1 122.7h0M466.8 147.8h0M470.3 117.0h0M470.5 100.0h0M469.0 85.6h0M464.9 148.2h0M466.0 105.6h0M468.8 88.1h0M460.6 76.0h0M460.9 145.1h0M457.4 86.9h0M465.6 123.3h0M468.6 94.5h0M460.3 136.7h0M458.8 65.9h0M460.5 104.3h0M471.1 125.6h0M465.5 106.9h0M467.0 183.5h0M463.7 185.5h0M473.5 171.2h0M472.6 151.0h0M475.0 193.9h0M470.3 171.5h0M471.7 162.2h0M471.0 184.7h0M468.7 163.0h0M460.3 162.3h0M468.3 179.3h0M474.8 192.7h0M476.4 194.2h0M467.1 157.1h0M470.2 163.2h0M473.7 160.0h0M466.6 161.0h0M474.5 181.0h0M470.4 165.7h0M472.8 186.7h0M462.2 180.5h0M464.2 175.6h0M467.3 178.2h0M475.6 190.5h0M466.5 190.9h0M474.5 188.7h0M468.9 195.0h0M467.9 155.3h0M463.9 182.9h0M465.8 171.1h0M466.2 159.6h0M460.7 152.5h0M471.1 166.2h0M467.2 196.8h0M470.3 190.5h0M472.7 197.7h0M466.4 175.4h0M463.5 161.7h0M468.3 173.3h0M459.8 157.6h0M475.1 241.3h0M473.2 237.1h0M514.7 223.6h0M514.3 223.1h0M513.5 225.4h0M508.6 228.8h0M517.2 219.5h0M513.3 222.8h0M468.0 219.5h0M478.2 244.5h0M468.5 221.2h0M482.5 247.7h0M515.6 224.0h0M528.8 201.0h0M523.8 209.0h0M466.3 201.2h0M472.4 235.6h0M466.1 197.4h0M481.6 247.2h0M467.2 197.4h0M519.4 216.7h0M518.9 214.8h0M528.6 199.1h0M492.5 244.8h0M469.9 227.5h0M510.8 228.5h0M468.8 220.9h0M506.9 232.6h0M506.2 235.9h0M520.6 215.6h0M479.1 246.2h0M493.9 243.9h0M524.1 208.7h0M472.7 238.5h0M523.5 211.1h0M466.4 210.0h0M526.6 203.8h0M480.1 246.1h0M474.8 240.4h0M467.7 221.1h0M486.5 248.4h0M527.6 202.8h0M531.0 195.7h0M515.8 221.6h0M528.7 199.6h0M470.4 233.0h0M524.1 207.8h0M492.2 244.5h0M466.9 195.2h0M487.3 246.4h0M530.3 195.9h0M503.0 239.2h0M468.0 218.4h0M528.7 200.1h0M532.0 196.9h0M471.5 231.7h0M506.1 232.4h0M503.9 237.3h0M466.1 200.0h0M492.1 247.0h0M467.9 209.6h0M529.6 199.8h0M467.5 195.4h0M469.8 223.8h0M470.1 232.6h0M505.5 232.3h0M470.1 225.7h0M467.9 207.0h0M528.7 201.0h0M496.1 243.3h0M468.7 221.0h0M529.2 198.7h0M529.0 201.9h0M511.6 225.3h0M468.9 214.5h0M466.1 199.6h0M467.7 197.1h0M531.5 196.1h0M500.1 239.0h0M494.7 242.7h0M510.8 227.8h0M500.1 240.3h0M498.9 240.5h0M527.7 200.1h0M533.0 194.7h0M499.6 238.9h0M503.4 235.5h0M469.3 224.3h0M479.1 244.1h0M483.2 246.4h0M529.0 202.9h0M513.2 222.1h0M508.2 232.3h0M478.4 245.0h0M520.6 211.2h0M469.2 217.0h0M485.6 247.7h0M477.8 244.6h0M518.9 215.2h0M467.7 207.9h0M467.0 214.2h0M466.5 208.1h0M512.6 226.4h0M466.8 211.7h0M527.3 201.7h0M492.6 245.4h0M579.2 106.8h0M556.0 142.0h0M541.6 173.9h0M595.5 94.3h0M588.0 96.4h0M542.0 173.6h0M546.3 165.5h0M558.8 140.5h0M576.0 108.8h0M541.2 173.3h0M602.5 92.8h0M553.8 150.5h0M565.7 124.5h0M594.4 96.3h0M538.3 179.5h0M602.9 93.3h0M552.6 152.7h0M560.8 138.5h0M537.7 183.9h0M548.7 161.9h0M582.0 102.3h0M549.1 155.9h0M598.4 93.1h0M594.0 95.6h0M563.5 131.7h0M558.1 142.5h0M541.8 174.6h0M543.5 170.6h0M595.2 94.7h0M586.0 99.1h0M532.2 190.9h0M561.2 133.8h0M604.8 92.7h0M557.2 143.3h0M568.8 121.9h0M593.8 95.9h0M538.2 182.3h0M577.4 106.5h0M562.5 130.8h0M534.5 193.5h0M573.5 114.8h0M602.7 94.3h0M570.4 116.8h0M558.8 140.6h0M551.7 153.4h0M544.0 173.5h0M569.9 116.2h0M595.4 95.2h0M545.7 164.8h0M557.1 145.0h0M578.6 106.2h0M571.9 113.2h0M564.9 129.8h0M577.8 106.9h0M606.2 92.0h0M542.6 170.7h0M537.4 182.8h0M604.5 92.9h0M545.8 166.2h0M563.8 127.3h0M588.0 97.0h0M536.2 188.8h0M572.0 116.6h0M564.0 131.0h0M567.3 122.7h0M533.1 192.4h0M572.3 117.6h0M603.5 92.3h0M583.1 99.1h0M571.6 115.9h0M539.0 180.6h0M552.7 149.1h0M551.4 156.3h0M581.5 101.6h0M568.7 119.8h0M582.5 103.2h0M552.5 149.6h0M573.5 111.7h0M552.9 150.0h0M544.5 165.8h0M554.8 148.8h0M536.6 183.2h0M591.2 96.5h0M588.1 96.4h0M552.3 152.1h0M592.0 97.4h0M549.8 159.0h0M552.6 154.2h0M541.7 175.4h0M553.1 147.6h0M560.4 135.9h0M556.7 146.6h0M595.4 93.1h0M548.3 161.3h0M565.4 126.5h0M598.5 94.5h0M552.7 151.5h0M562.4 131.5h0M592.3 94.8h0M575.0 111.0h0M573.9 115.3h0M567.9 122.7h0M546.0 165.1h0M537.3 184.2h0M550.0 153.5h0M536.9 186.5h0M565.9 126.3h0M541.0 177.3h0M565.9 124.8h0M560.2 135.5h0M605.4 92.8h0M568.3 119.2h0M600.9 92.6h0M605.3 93.0h0M544.7 166.7h0M593.8 96.6h0M562.2 134.5h0M577.6 108.0h0M555.4 149.2h0M553.8 148.1h0M532.2 191.8h0M552.2 153.7h0M546.5 164.2h0M574.5 112.7h0M556.8 144.3h0M552.5 153.8h0M539.1 182.7h0M578.2 104.4h0M562.0 137.3h0M576.5 109.0h0M548.9 160.5h0M539.4 179.8h0M540.3 174.9h0M582.6 101.0h0M573.0 116.0h0M538.8 184.0h0M544.1 171.6h0M549.0 155.7h0M566.2 127.1h0M603.7 93.5h0M574.5 109.3h0M571.6 117.4h0M549.7 156.1h0M588.4 97.7h0M599.2 92.9h0M596.7 94.5h0M583.1 102.4h0M547.9 163.7h0M535.9 189.0h0M583.2 103.5h0M556.6 147.0h0M554.1 150.8h0M577.6 105.1h0M536.7 187.0h0M534.2 188.0h0M538.3 182.1h0M544.1 168.3h0M539.6 179.6h0M570.2 120.1h0M568.3 119.2h0M577.7 109.2h0M569.2 118.0h0M563.5 131.2h0M586.9 97.8h0M576.6 106.0h0M549.0 159.6h0M543.2 169.7h0M577.8 104.6h0M556.5 146.2h0M546.3 162.5h0M549.0 161.7h0M549.9 157.0h0M536.1 186.4h0M570.0 116.8h0M556.9 143.6h0M553.5 147.2h0M542.0 175.3h0M606.3 93.7h0M576.7 108.0h0M548.7 156.6h0M541.2 175.3h0M544.5 165.8h0M558.2 142.0h0M591.5 96.7h0M582.6 137.6h0M581.7 143.4h0M579.5 156.6h0M580.8 157.3h0M576.2 160.4h0M581.3 159.6h0M578.9 143.2h0M579.1 149.6h0M579.1 152.2h0M587.6 155.0h0M583.1 144.8h0M579.0 146.6h0M584.6 140.3h0M585.2 137.2h0M601.3 113.0h0M621.9 106.2h0M604.9 98.7h0M588.1 114.8h0M619.9 108.7h0M602.9 97.4h0M586.6 103.3h0M618.8 110.8h0M586.4 114.9h0M606.5 117.8h0M614.0 116.0h0M607.9 113.6h0M586.6 102.6h0M608.8 123.5h0M600.7 118.3h0M616.1 98.1h0M613.5 122.5h0M601.5 104.5h0M606.4 116.7h0M598.5 114.5h0M613.9 124.3h0M625.1 100.0h0M585.5 115.8h0M622.1 114.7h0M603.3 126.7h0M606.9 125.5h0M607.8 114.2h0M602.9 124.4h0M585.7 107.5h0M584.5 119.4h0M598.6 128.1h0M595.7 129.0h0M621.3 105.7h0M604.5 97.8h0M608.6 120.1h0M601.2 111.0h0M602.7 124.2h0M589.2 125.9h0M613.0 109.7h0M603.5 114.6h0M595.8 114.5h0M584.3 117.4h0M595.6 119.4h0M585.5 113.3h0M604.8 112.6h0M613.7 129.6h0M593.3 109.5h0M623.9 97.5h0M589.4 113.6h0M615.8 111.7h0M593.1 126.9h0M614.4 121.3h0M605.1 104.4h0M610.2 108.6h0M610.3 130.3h0M646.8 118.1h0M648.9 121.2h0M645.0 110.6h0M649.3 121.3h0M645.4 111.1h0M646.6 120.8h0M649.4 124.3h0M645.2 114.9h0M646.9 116.2h0M645.5 109.9h0M645.8 111.6h0" stroke="#7aa0e2" stroke-width="2.40" stroke-linecap="round" fill="none"/>
<path d="M461.0 55.2h0M461.6 48.8h0M460.4 52.3h0M457.7 49.2h0M456.2 51.9h0M457.9 50.7h0M461.8 54.9h0M460.4 59.7h0M456.7 52.1h0M455.7 50.3h0M461.1 57.8h0M459.1 56.8h0M461.4 73.5h0M465.7 103.6h0M460.9 83.3h0M466.8 88.6h0M464.8 83.4h0M467.8 93.7h0M463.1 143.5h0M467.2 126.3h0M460.8 135.6h0M461.6 148.9h0M470.2 119.3h0M469.1 109.0h0M467.5 71.2h0M471.8 132.0h0M457.4 81.8h0M464.8 128.6h0M460.9 149.5h0M467.8 103.7h0M462.6 162.3h0M471.4 150.9h0M474.6 178.4h0M463.2 160.4h0M470.8 181.5h0M464.7 166.7h0M467.3 195.5h0M468.7 192.0h0M470.5 178.1h0M467.8 184.0h0M467.8 186.3h0M462.3 166.1h0M474.2 196.9h0M469.4 155.1h0M472.6 183.3h0M467.7 152.9h0M460.2 161.4h0M470.0 190.8h0M460.8 151.1h0M470.2 170.5h0M466.9 191.0h0M475.5 198.4h0M468.3 169.8h0M466.3 163.4h0M463.9 161.9h0M545.2 174.1h0M547.4 172.0h0M566.2 130.9h0M572.6 121.6h0M565.6 133.7h0M496.0 248.0h0M524.1 215.1h0M571.7 123.0h0M517.0 226.4h0M515.8 226.7h0M541.1 182.3h0M568.0 132.0h0M511.7 232.8h0M500.9 245.3h0M497.7 247.7h0M563.9 136.6h0M516.9 227.6h0M548.1 166.9h0M551.2 161.1h0M551.0 160.1h0M545.8 174.5h0M531.7 201.9h0M502.4 243.1h0M532.3 202.3h0M549.7 163.8h0M513.0 232.4h0M528.0 210.7h0M511.0 233.7h0M515.9 228.9h0M547.7 169.2h0M563.5 136.2h0M529.2 208.5h0M527.3 212.8h0M498.0 245.3h0M539.1 190.0h0M513.4 230.2h0M562.6 141.5h0M513.2 230.6h0M506.6 240.8h0M515.4 227.4h0M550.3 166.1h0M537.9 193.5h0M543.4 181.7h0M567.5 129.0h0M515.8 228.3h0M544.7 174.8h0M539.5 187.0h0M555.3 152.3h0M549.4 164.1h0M508.3 238.6h0M511.5 233.0h0M552.1 159.2h0M498.5 246.7h0M564.1 134.7h0M537.5 191.0h0M575.1 118.1h0M513.6 230.7h0M554.1 157.2h0M550.2 166.3h0M548.1 171.9h0M522.1 220.2h0M571.9 123.2h0M501.2 244.6h0M509.3 235.3h0M532.8 202.3h0M559.3 145.2h0M546.1 175.8h0M553.4 154.4h0M502.7 243.3h0M554.9 155.1h0M547.6 171.4h0M529.8 206.8h0M504.4 242.0h0M505.4 241.2h0M510.1 234.7h0M511.8 234.1h0M516.9 225.8h0M469.2 219.7h0M468.0 210.0h0M476.2 222.6h0M465.1 208.7h0M473.0 208.8h0M476.1 201.0h0M471.2 215.5h0M466.0 208.3h0M467.0 199.3h0M475.3 205.3h0M476.3 208.4h0M471.8 218.6h0M469.7 223.3h0M474.1 221.8h0M470.0 198.9h0M464.6 199.4h0M470.0 223.5h0M470.3 207.9h0M464.8 208.7h0M468.9 223.0h0M582.3 140.9h0M588.1 139.0h0M588.7 153.8h0M587.5 149.0h0M581.9 153.5h0M582.4 137.3h0M576.5 156.1h0M586.4 141.9h0M612.4 131.3h0M625.4 102.2h0M598.0 112.8h0M601.5 98.6h0M598.1 124.2h0M603.4 119.7h0M611.9 118.2h0M614.4 108.6h0M589.6 112.8h0M622.6 98.3h0M647.9 116.4h0M646.4 128.4h0M646.3 117.1h0M646.3 128.7h0M646.2 124.3h0M650.3 136.0h0M649.5 125.1h0M645.6 118.7h0M646.7 119.7h0M649.2 128.1h0M643.3 105.0h0M645.1 106.7h0M647.5 129.0h0M645.5 125.5h0M647.3 122.0h0M650.6 136.3h0M648.2 138.7h0M646.5 132.1h0M647.4 115.6h0M643.6 105.3h0M647.8 128.9h0M646.2 132.1h0M644.1 104.9h0M645.3 126.8h0M647.1 128.4h0M648.4 130.9h0M643.2 105.6h0M645.3 114.5h0M648.5 126.3h0M650.4 134.8h0M647.0 126.1h0M644.2 106.6h0M646.8 129.4h0M650.9 140.1h0M646.3 121.9h0M652.0 138.9h0M647.2 120.9h0M647.5 122.7h0M642.6 108.5h0M647.2 125.8h0M644.6 112.9h0M648.5 123.5h0M646.9 133.4h0M647.7 136.9h0M650.0 138.6h0M644.1 112.4h0M647.0 115.3h0M648.8 128.0h0M646.6 123.0h0M648.1 129.1h0M646.7 113.9h0M647.7 137.0h0M645.0 113.9h0M646.2 111.5h0M647.2 132.4h0M642.6 107.4h0M648.5 134.3h0M646.0 126.8h0M649.1 125.8h0M648.7 120.2h0M646.9 135.8h0M649.7 125.1h0M642.4 103.6h0M644.5 117.3h0M650.4 137.7h0M643.8 115.6h0M644.4 106.6h0M643.4 112.3h0M644.0 103.8h0M650.1 140.2h0M641.6 108.2h0M645.8 118.2h0M644.2 112.8h0M642.3 105.0h0" stroke="#6f72d6" stroke-width="2.40" stroke-linecap="round" fill="none"/>
<path d="M450.3 37.8h0M448.9 39.3h0M451.8 27.5h0M452.0 26.3h0M449.1 26.9h0M448.7 16.7h0M450.6 39.6h0M449.4 29.5h0M453.0 34.9h0M451.4 32.0h0M451.5 28.4h0M450.2 21.4h0M448.7 25.4h0M452.3 31.1h0M449.2 39.2h0M451.7 31.2h0M450.5 39.6h0M448.4 14.5h0M451.1 23.2h0M450.4 30.6h0M451.9 17.1h0M452.2 30.5h0M451.9 36.9h0M449.4 25.6h0M450.3 41.8h0M451.1 16.1h0M452.0 29.4h0M452.6 15.4h0M452.8 41.7h0M448.4 28.8h0M449.0 30.4h0M449.3 34.7h0M451.7 23.9h0M449.5 42.4h0M448.6 21.9h0M450.1 32.1h0M450.3 17.5h0M451.3 36.4h0M452.0 29.2h0M450.0 14.3h0M451.1 33.5h0M450.7 43.7h0M449.4 39.2h0M452.1 41.9h0M453.1 26.5h0M451.9 43.5h0M456.0 33.0h0M454.2 20.2h0M454.5 22.5h0M454.7 42.1h0M455.5 18.6h0M456.7 43.2h0M457.2 33.6h0M455.5 26.4h0M455.2 38.3h0M457.2 28.9h0M457.4 33.7h0M456.7 22.4h0M455.0 21.2h0M457.2 27.4h0M457.1 19.4h0M456.6 15.8h0M454.7 37.2h0M457.3 15.7h0M456.3 26.9h0M456.5 40.6h0M456.9 20.7h0M456.2 31.1h0M454.0 18.4h0M455.4 19.8h0M454.9 34.4h0M457.8 28.0h0M456.6 37.0h0M456.7 33.9h0M454.0 40.2h0M454.6 19.8h0M456.7 65.3h0M450.5 50.1h0M454.8 105.9h0M457.7 83.3h0M455.3 107.2h0M455.6 90.3h0M455.7 53.2h0M450.8 49.3h0M458.3 109.6h0M454.7 55.1h0M452.3 57.7h0M451.4 64.5h0M454.0 84.3h0M452.3 64.7h0M456.4 99.7h0M450.2 75.1h0M454.9 66.2h0M454.2 88.9h0M456.9 97.9h0M452.3 62.6h0M451.1 54.0h0M456.8 100.2h0M454.3 70.0h0M455.3 108.7h0M456.1 116.2h0M459.7 117.3h0M458.9 136.9h0M459.5 130.2h0M457.0 127.1h0M459.7 123.7h0M455.5 123.8h0M464.6 143.9h0M461.0 124.4h0M462.4 143.1h0M455.9 136.7h0M463.4 125.6h0M455.4 124.7h0M460.7 148.5h0M454.3 112.9h0M460.6 147.7h0M457.8 136.2h0M456.1 113.0h0M454.9 121.0h0M454.6 117.9h0M460.7 127.5h0M465.2 129.9h0M460.6 138.4h0M465.7 133.4h0M459.4 161.0h0M468.0 163.3h0M465.2 191.7h0M465.9 187.6h0M469.4 177.6h0M460.6 156.6h0M462.3 156.9h0M468.0 177.9h0M465.7 172.1h0M464.0 180.4h0M465.2 181.2h0M460.6 157.4h0M465.6 175.0h0M459.5 158.0h0M464.5 164.6h0M463.9 184.4h0M462.2 183.3h0M469.8 196.7h0M465.4 199.2h0M461.1 164.9h0M463.8 175.4h0M468.7 172.4h0M460.8 164.8h0M459.8 165.1h0M465.8 163.4h0M467.6 155.4h0M463.5 153.4h0M467.5 170.9h0M464.5 162.4h0M461.3 152.6h0M463.9 175.6h0M461.8 158.1h0M471.7 213.3h0M473.6 208.1h0M468.8 208.6h0M471.1 198.9h0M466.8 201.0h0M468.8 217.0h0M468.9 216.4h0M467.7 200.4h0M472.7 197.3h0M473.6 209.1h0M471.9 216.0h0M471.5 213.1h0M471.5 212.6h0M470.8 219.8h0M468.1 199.2h0M469.1 218.4h0M467.6 205.2h0M469.4 209.6h0M468.0 205.7h0M472.2 195.2h0M473.7 206.8h0M471.5 216.3h0M469.3 213.1h0M471.1 212.9h0M471.7 194.5h0M473.6 218.6h0M470.8 199.0h0M467.4 195.4h0M472.2 213.8h0M469.0 217.4h0M466.6 197.6h0M469.3 210.1h0M522.0 206.1h0M524.6 204.8h0M489.8 242.0h0M500.2 234.8h0M476.6 234.7h0M474.6 228.5h0M490.3 242.7h0M493.0 243.3h0M522.9 203.4h0M521.9 207.5h0M490.5 242.6h0M530.0 195.4h0M520.0 207.4h0M509.0 223.9h0M512.9 218.3h0M495.9 238.3h0M482.9 243.0h0M474.0 229.9h0M477.9 239.0h0M499.5 235.8h0M473.3 233.2h0M473.5 226.6h0M498.0 236.0h0M506.7 229.1h0M513.1 218.8h0M489.3 244.1h0M485.1 244.2h0M474.3 228.3h0M527.8 196.3h0M514.2 216.9h0M470.8 222.9h0M526.8 197.0h0M518.0 211.1h0M490.9 241.8h0M477.3 236.5h0M528.4 193.4h0M529.1 193.0h0M500.0 235.9h0M472.3 232.2h0M490.8 242.5h0M526.7 200.6h0M525.6 198.9h0M494.8 239.7h0M485.4 245.8h0M484.5 245.6h0M523.5 207.7h0M472.3 226.0h0M508.4 225.6h0M478.9 242.2h0M501.3 235.6h0M493.3 240.2h0M507.4 224.6h0M527.7 198.9h0M504.1 232.6h0M528.5 195.5h0M504.4 228.9h0M472.0 229.3h0M522.7 203.2h0M504.8 228.2h0M528.3 194.9h0M472.6 224.6h0M522.5 203.8h0M473.1 232.2h0M472.4 228.9h0M508.8 224.4h0M472.2 226.2h0M504.4 232.5h0M525.7 199.0h0M524.8 201.2h0M514.9 215.2h0M525.1 200.6h0M525.2 199.8h0M475.2 236.7h0M472.9 224.5h0M509.6 222.4h0M517.2 215.3h0M519.0 209.1h0M474.1 233.8h0M519.0 212.4h0M483.8 244.7h0M507.4 228.8h0M529.0 193.1h0M501.7 232.3h0M517.5 211.2h0M507.0 228.8h0M524.9 198.9h0M496.0 240.7h0M472.2 226.4h0M506.7 229.4h0M479.7 240.9h0M525.6 202.7h0M528.8 197.3h0M491.0 244.1h0M521.2 206.1h0M498.9 239.1h0M527.8 198.0h0M496.9 236.8h0M519.0 213.2h0M522.2 203.4h0M493.7 240.6h0M482.4 242.3h0M501.5 233.8h0M497.9 236.9h0M490.9 241.9h0M517.0 213.8h0M499.7 237.2h0M493.2 239.6h0M505.4 231.5h0M521.8 204.9h0M477.1 238.8h0M503.9 231.2h0M473.5 227.5h0M475.2 231.7h0M526.0 199.0h0M492.3 242.4h0M478.5 242.0h0M476.1 235.1h0M512.9 221.7h0M496.8 237.1h0M496.1 237.6h0M491.9 243.8h0M520.3 207.3h0M489.8 243.8h0M473.4 227.9h0M522.0 207.7h0M490.8 244.2h0M523.9 201.1h0M520.7 209.4h0M515.5 212.4h0M486.8 245.7h0M518.3 213.1h0M524.1 203.1h0M523.3 201.6h0M523.4 202.9h0M526.0 201.2h0M487.1 242.8h0M475.8 238.6h0M477.6 241.0h0M525.3 202.5h0M476.9 236.0h0M475.7 237.3h0M524.4 201.3h0M483.7 243.7h0M511.8 220.1h0M519.8 211.1h0M474.0 230.1h0M475.8 235.3h0M516.9 214.0h0M528.5 195.3h0M474.3 227.3h0M525.4 198.0h0M529.0 194.1h0M470.3 222.6h0M526.6 198.9h0M511.6 224.4h0M513.7 217.2h0M526.0 198.9h0M486.7 243.8h0M504.4 229.9h0M483.8 244.3h0M504.6 231.8h0M500.8 233.2h0M506.9 227.4h0M511.4 221.5h0M506.4 230.5h0M476.3 235.8h0M507.6 227.3h0M583.5 95.8h0M536.9 180.2h0M566.0 123.1h0M549.8 147.3h0M556.8 136.5h0M591.9 92.0h0M583.3 95.7h0M593.5 91.5h0M598.4 90.8h0M583.1 95.7h0M562.6 123.5h0M541.1 170.0h0M557.4 136.3h0M598.2 89.2h0M540.9 165.0h0M537.0 175.9h0M577.4 104.1h0M595.2 92.1h0M529.9 188.6h0M577.1 103.1h0M580.6 96.2h0M602.4 90.1h0M589.9 94.6h0M604.0 89.2h0M537.5 174.2h0M559.4 128.8h0M584.1 95.3h0M547.8 154.3h0M580.9 97.2h0M594.8 89.2h0M593.0 90.4h0M548.3 154.5h0M582.5 98.7h0M546.9 151.4h0M594.4 91.8h0M563.9 123.5h0M581.2 97.9h0M538.5 175.8h0M538.4 175.7h0M555.7 136.5h0M568.3 118.3h0M536.5 176.4h0M545.0 157.0h0M556.4 137.5h0M570.9 111.2h0M594.1 92.4h0M577.2 101.5h0M595.9 90.4h0M595.2 90.8h0M600.6 90.7h0M585.5 94.3h0M574.8 106.2h0M561.7 125.3h0M576.8 104.1h0M596.1 89.9h0M552.7 140.5h0M547.8 150.0h0M592.1 92.2h0M570.0 111.4h0M537.1 176.3h0M544.4 158.9h0M538.6 173.1h0M598.5 90.6h0M537.3 178.9h0M530.5 186.7h0M554.6 143.4h0M554.9 138.9h0M533.1 186.2h0M559.6 133.9h0M571.8 107.7h0M579.3 99.3h0M540.6 171.3h0M578.0 101.0h0M573.0 110.5h0M591.8 93.8h0M564.7 124.4h0M536.6 178.0h0M570.5 109.0h0M581.6 98.6h0M571.8 107.7h0M561.2 126.0h0M579.7 99.5h0M590.4 91.5h0M556.1 133.9h0M554.2 142.6h0M564.7 123.9h0M569.6 110.9h0M543.0 162.5h0M534.7 180.7h0M558.7 131.0h0M570.0 112.2h0M536.1 182.9h0M538.9 169.3h0M600.0 90.2h0M560.7 127.7h0M596.6 91.1h0M574.6 103.5h0M534.5 184.6h0M536.7 176.9h0M531.4 192.7h0M587.2 93.4h0M552.6 144.8h0M542.3 161.9h0M560.2 128.5h0M569.8 112.4h0M558.2 135.1h0M533.3 185.3h0M550.5 151.4h0M552.1 147.9h0M566.2 117.0h0M569.6 111.1h0M553.8 144.2h0M547.6 156.9h0M553.1 143.6h0M537.1 175.5h0M531.0 189.4h0M537.4 171.3h0M563.5 119.7h0M564.0 121.9h0M532.8 182.4h0M574.4 104.2h0M587.7 95.3h0M543.5 163.7h0M557.9 135.2h0M551.8 146.9h0M550.9 150.1h0M602.6 89.3h0M570.1 113.2h0M572.3 108.7h0M592.1 93.4h0M557.3 133.5h0M538.4 172.6h0M573.4 109.0h0M554.0 144.2h0M599.8 91.0h0M602.7 90.6h0M551.2 145.2h0M588.2 93.8h0M575.3 105.2h0M553.2 145.7h0M570.1 112.1h0M549.0 148.4h0M583.8 95.9h0M583.7 96.5h0M599.3 91.3h0M534.6 183.0h0M574.2 107.8h0M535.8 177.9h0M583.5 96.1h0M565.2 123.7h0M557.3 133.5h0M562.5 123.5h0M595.5 92.1h0M562.5 123.2h0M599.5 89.6h0M577.8 101.7h0M602.6 90.8h0M590.2 90.6h0M534.3 185.2h0M551.4 143.4h0M551.2 147.1h0M547.8 153.1h0M561.0 127.8h0M586.8 93.9h0M539.4 173.2h0M544.8 163.2h0M547.1 154.8h0M590.4 93.0h0M533.7 180.5h0M573.2 108.1h0M538.6 169.1h0M587.2 95.6h0M594.9 90.3h0M569.3 116.5h0M567.8 113.4h0M536.0 180.7h0M584.3 97.0h0M574.2 107.6h0M533.8 186.3h0M556.9 131.9h0M558.2 135.3h0M538.3 169.6h0M605.9 88.7h0M536.4 181.2h0M569.9 113.5h0M545.1 161.0h0M584.8 96.7h0M536.4 178.3h0M548.4 149.0h0M536.2 176.5h0M543.2 159.4h0M586.5 95.8h0M583.1 98.4h0M599.0 88.3h0M542.8 163.4h0M605.5 90.5h0M581.7 98.2h0M562.4 124.3h0M561.5 129.9h0M563.4 124.2h0M577.8 101.3h0M532.2 185.8h0M596.1 89.6h0M535.6 178.8h0M535.8 178.2h0M577.8 100.0h0M557.3 134.6h0M563.6 123.5h0M553.7 143.5h0M562.4 123.9h0M572.2 105.3h0M577.4 102.8h0M573.8 105.2h0M582.8 97.2h0M577.5 101.3h0M572.8 107.1h0M578.6 99.5h0M529.6 192.4h0M594.4 92.0h0M560.3 126.8h0M557.3 134.8h0M584.6 95.4h0M548.7 153.2h0M583.1 96.3h0M546.9 151.8h0M599.3 90.0h0M600.8 89.6h0M561.8 130.1h0M588.5 93.5h0M559.1 128.6h0M559.2 132.5h0M529.5 190.0h0M550.6 146.9h0M557.9 130.0h0M536.6 177.8h0M561.9 123.7h0M552.2 149.9h0M595.0 89.6h0M542.0 169.4h0M591.2 94.2h0M583.3 96.4h0M532.8 185.4h0M575.4 104.0h0M538.2 176.0h0M550.8 143.4h0M550.8 146.1h0M535.6 177.0h0M579.1 99.2h0M573.8 104.7h0M540.3 173.8h0M552.9 144.4h0M578.0 99.9h0M574.0 104.6h0M564.4 119.9h0M561.8 123.3h0M589.2 91.4h0M566.0 120.4h0M547.5 150.9h0M557.1 137.5h0M554.7 143.8h0M539.0 174.7h0M532.3 185.1h0M596.0 91.6h0M560.3 129.8h0M604.9 90.2h0M577.7 100.5h0M576.8 103.0h0M560.7 131.0h0M557.9 132.0h0M560.6 129.9h0M578.5 101.5h0M595.4 92.4h0M547.6 157.2h0M576.8 100.1h0M587.0 95.3h0M546.6 154.6h0M560.3 131.7h0M599.0 88.5h0M560.4 127.4h0M574.0 105.6h0M533.8 184.6h0M546.8 155.4h0M534.4 184.5h0M540.3 166.3h0M539.7 168.5h0M571.7 111.5h0M536.0 176.5h0M560.9 131.9h0M530.2 188.9h0M566.6 120.4h0M567.6 115.2h0M538.2 177.9h0M537.0 172.9h0M577.2 100.7h0M586.5 94.0h0M587.8 93.1h0M566.7 117.8h0M593.3 108.9h0M589.9 115.6h0M593.4 108.4h0M592.6 103.6h0M594.8 95.3h0M595.2 102.4h0M592.9 100.8h0M593.5 102.4h0M591.4 109.2h0M592.5 107.2h0M589.9 114.2h0M595.3 101.8h0M591.6 110.0h0M592.3 102.6h0M592.9 103.5h0M592.2 108.7h0M591.1 107.0h0M591.2 110.5h0M592.3 110.0h0M590.9 110.2h0M591.3 114.5h0M611.0 122.3h0M606.8 136.5h0M609.7 114.8h0M614.7 103.4h0M611.5 104.9h0M608.0 128.5h0M606.8 137.0h0M610.6 97.6h0M610.6 130.8h0M613.8 110.4h0M607.7 128.1h0M607.6 127.4h0M609.7 131.5h0M608.9 138.3h0M610.3 103.4h0M611.1 96.2h0M612.0 117.0h0M611.6 102.9h0M608.1 120.0h0M612.2 105.0h0M614.0 94.6h0M612.0 121.5h0M612.8 104.1h0M609.5 124.8h0M610.3 129.3h0M607.8 137.5h0M613.5 104.1h0M610.1 105.8h0M608.7 133.5h0M607.2 124.8h0M610.0 114.2h0M612.2 96.4h0M608.7 114.7h0M612.2 113.9h0M612.3 98.4h0M611.7 111.0h0M611.8 131.0h0M612.0 120.4h0M614.4 111.7h0M614.2 103.4h0M614.2 102.4h0M612.3 104.7h0M611.9 100.4h0M610.7 118.1h0M610.9 100.4h0M611.7 123.7h0M610.8 128.2h0M612.3 121.0h0M609.3 108.8h0M610.3 136.2h0M609.8 119.9h0M611.1 98.9h0M613.7 108.5h0M609.5 117.7h0M608.6 134.9h0M611.2 115.1h0M609.9 115.8h0M612.7 98.0h0M611.9 114.0h0M613.7 101.8h0M607.0 135.3h0M612.6 98.9h0M607.8 129.6h0M607.2 134.7h0M608.7 137.4h0M610.9 113.1h0M610.9 126.8h0M610.1 124.4h0M612.2 103.4h0M607.5 125.9h0M610.4 113.9h0M607.5 128.8h0M610.9 128.9h0M611.3 120.1h0M614.3 103.0h0M608.9 134.4h0M612.1 112.7h0M611.4 123.9h0M612.1 98.0h0M610.7 115.7h0M610.0 112.7h0M607.9 131.2h0M612.7 118.3h0M612.0 108.8h0M609.7 100.2h0M612.3 118.6h0M610.2 119.7h0M609.9 124.2h0M611.4 99.6h0M609.5 118.9h0M611.6 115.6h0M613.1 95.7h0M609.1 124.0h0M610.1 100.8h0M610.4 125.5h0M611.7 93.7h0M612.6 112.2h0M608.9 118.2h0M614.1 100.9h0M611.9 115.4h0M610.8 137.1h0M610.5 122.3h0M610.5 117.4h0M614.0 102.0h0M610.4 114.6h0M613.2 94.1h0M613.2 94.4h0M612.6 100.8h0M607.2 127.0h0M608.0 127.1h0M610.3 128.2h0M614.4 96.7h0M611.7 125.6h0M612.0 93.8h0M614.2 113.0h0M608.9 123.5h0M610.5 113.7h0M612.2 108.2h0M611.5 130.2h0M609.0 114.0h0M609.5 134.4h0M609.6 135.2h0M608.5 119.4h0M608.8 118.7h0M609.9 121.5h0M612.2 107.6h0M607.7 130.6h0M611.0 107.7h0M609.7 108.6h0M609.6 102.0h0M611.7 100.5h0M609.3 117.0h0M608.1 126.8h0M612.5 113.3h0M617.3 122.5h0M617.8 109.6h0M620.1 102.2h0M616.0 121.2h0M617.1 113.2h0M618.1 106.0h0M622.9 105.8h0M619.0 111.2h0M620.7 110.4h0M617.2 107.6h0M624.1 101.6h0M620.9 104.8h0M614.8 134.9h0M623.6 101.2h0M619.2 115.1h0M620.0 109.6h0M621.7 111.4h0M615.9 121.7h0M617.4 124.7h0M621.1 100.4h0M615.0 126.5h0M613.3 130.8h0M618.1 124.3h0M615.1 126.6h0M620.5 111.6h0M613.9 124.8h0M615.4 119.1h0M615.6 131.0h0M621.0 115.4h0M617.1 115.2h0M615.2 126.9h0M619.7 99.4h0M618.7 113.9h0M614.0 123.5h0M615.6 132.9h0M612.9 132.6h0M621.3 115.2h0M615.0 122.5h0M621.2 107.5h0M617.0 132.0h0M615.3 131.0h0M622.0 108.9h0M620.4 102.0h0M615.6 124.6h0M615.0 135.4h0M622.5 108.1h0M612.6 135.8h0M619.6 104.4h0M617.3 117.3h0M619.2 100.3h0M621.5 111.7h0M616.2 124.4h0M622.5 104.5h0M614.8 119.9h0M617.0 115.7h0M618.6 117.6h0M616.6 125.5h0M615.1 126.5h0M619.1 106.5h0M616.8 117.5h0M618.2 124.9h0M615.1 125.5h0M617.1 110.5h0M616.3 127.1h0M616.5 118.7h0M618.6 117.3h0M615.1 128.2h0M618.7 102.5h0M620.4 117.7h0M618.0 110.0h0M615.7 123.3h0M616.6 125.2h0M620.8 112.8h0M615.5 127.4h0M616.2 120.1h0M616.6 132.6h0M615.7 128.7h0M614.4 128.0h0M616.2 132.0h0M616.9 117.5h0M614.6 134.1h0M622.3 107.3h0M617.4 110.1h0M618.2 128.7h0M618.8 103.2h0M617.3 118.9h0M623.9 101.9h0M618.7 121.9h0M622.2 105.8h0M620.9 101.0h0M614.9 125.3h0M617.2 125.4h0M619.2 106.5h0M618.0 115.4h0M614.0 126.9h0M616.4 133.0h0M623.0 101.8h0M620.4 108.4h0M614.4 127.8h0M618.1 120.0h0M616.6 114.4h0M621.0 115.1h0M618.2 105.1h0M620.5 105.8h0M615.8 120.8h0M620.3 108.8h0M615.9 126.8h0M616.1 120.5h0M623.1 102.6h0M622.4 107.9h0M619.3 115.0h0M617.5 130.9h0M622.1 103.4h0M621.7 108.6h0M617.3 134.1h0M617.3 112.5h0M617.9 114.6h0M620.7 107.4h0M616.1 115.9h0M620.7 119.2h0M615.0 121.1h0M614.3 130.0h0M616.0 129.1h0M615.3 115.9h0M615.7 133.8h0M620.5 115.2h0M583.4 98.2h0M616.2 92.5h0M594.2 91.2h0M596.5 87.5h0M597.8 91.4h0M578.6 98.7h0M611.6 94.0h0M614.8 90.7h0M616.7 95.3h0M623.5 92.5h0M585.7 96.7h0M610.5 89.2h0M578.5 97.1h0M622.3 91.7h0M611.2 95.6h0M598.3 89.3h0M612.2 93.4h0M584.5 97.5h0M613.5 96.9h0M590.1 91.9h0M595.9 87.8h0M617.6 92.3h0M613.1 95.9h0M621.5 90.0h0M607.8 90.8h0M587.9 94.2h0M618.9 97.5h0M617.5 94.6h0M616.5 93.1h0M612.9 95.7h0M576.2 104.5h0M586.5 98.0h0M580.1 101.5h0M617.9 95.9h0M578.3 100.2h0M594.7 88.6h0M622.4 93.8h0M580.4 97.5h0M598.9 87.0h0M604.0 91.2h0M581.5 101.5h0M587.2 96.0h0M580.3 96.0h0M602.3 88.8h0M600.5 88.8h0M622.0 89.2h0M581.4 99.1h0M584.4 97.7h0M595.0 89.5h0M603.7 88.9h0M585.5 94.1h0M601.0 88.0h0M623.5 92.2h0M582.8 98.7h0M613.2 94.3h0M605.6 92.9h0M614.5 97.4h0M587.8 96.9h0M624.8 91.3h0M621.1 91.7h0M576.3 104.8h0M620.6 96.3h0M582.8 95.5h0M602.4 89.1h0M615.9 91.2h0M587.4 96.7h0M622.2 94.0h0M579.6 96.6h0M591.3 91.6h0M584.2 93.7h0M578.8 98.9h0M601.8 89.4h0M606.1 91.8h0M604.8 88.3h0M605.2 90.4h0M581.7 99.7h0M610.7 93.5h0M615.9 90.6h0M592.2 90.9h0M599.6 91.5h0M582.7 95.0h0M623.9 88.3h0M619.9 95.2h0M593.6 89.5h0M605.1 89.6h0M598.6 92.9h0M609.2 88.5h0M616.6 93.0h0M597.2 87.5h0M594.1 88.9h0M604.4 91.6h0M614.9 94.5h0M615.6 95.2h0M601.9 88.4h0M600.6 90.9h0M578.0 97.4h0M613.1 90.1h0M619.6 90.0h0M615.1 97.6h0M620.7 91.5h0M612.9 90.8h0M580.2 98.4h0M611.1 89.8h0M591.5 94.8h0M610.1 89.0h0M604.0 86.7h0M590.3 94.6h0M580.6 100.7h0M616.5 92.3h0M594.2 90.4h0M616.7 93.3h0M579.6 103.3h0M602.7 92.8h0M601.5 86.8h0M585.0 93.9h0M599.2 89.9h0M607.2 90.7h0M623.6 92.8h0M582.4 100.3h0M615.7 97.3h0M606.6 90.1h0M587.7 95.0h0M580.9 101.5h0M609.3 92.0h0M615.7 94.7h0M624.3 91.3h0M606.4 90.0h0M578.9 97.9h0M580.7 94.6h0M602.5 91.8h0M603.4 86.8h0M582.0 99.6h0M624.3 91.9h0M586.0 92.8h0M578.0 105.2h0M600.1 89.9h0M604.0 92.2h0M577.8 105.4h0M622.9 86.7h0M599.2 88.2h0M588.4 95.4h0M588.8 93.5h0M620.1 90.3h0M577.7 101.8h0M575.3 103.1h0M601.1 88.9h0M611.8 89.5h0M584.4 96.8h0M610.7 93.1h0M583.5 95.7h0M612.9 91.9h0M624.4 92.0h0M623.2 91.4h0M597.6 93.6h0M579.6 102.6h0M603.0 88.0h0M579.5 101.6h0M578.3 98.7h0M594.5 89.1h0M623.6 90.6h0M589.8 90.3h0M605.6 88.2h0M578.1 105.0h0M588.1 92.2h0M622.7 92.7h0M608.8 91.9h0M622.3 91.3h0M607.6 92.4h0M615.0 92.7h0M599.9 87.5h0M601.9 91.3h0M595.5 90.4h0M589.2 91.6h0M579.1 100.7h0M588.4 95.1h0M615.0 94.1h0M602.4 91.5h0M575.9 102.1h0M591.4 94.0h0M580.1 102.9h0M620.3 94.4h0M607.5 90.8h0M621.8 91.5h0M619.4 92.1h0M618.2 93.2h0M622.2 93.1h0M612.9 90.3h0M584.8 94.8h0M599.9 88.9h0M617.3 97.8h0M576.0 103.9h0M582.8 95.4h0M622.3 90.8h0M582.3 93.9h0M598.3 88.4h0M598.1 91.3h0M585.1 93.0h0M604.3 88.6h0M579.8 102.8h0M602.1 88.3h0M625.6 88.6h0M624.0 94.2h0M599.0 87.4h0M600.0 89.5h0M587.2 96.3h0M592.1 93.5h0M602.1 90.5h0M597.5 91.8h0M603.9 87.7h0M581.5 94.4h0M633.5 114.0h0M634.3 149.1h0M633.3 118.5h0M629.6 105.1h0M638.3 138.6h0M638.8 150.5h0M638.4 126.5h0M635.5 118.8h0M632.5 157.8h0M637.2 129.2h0M633.0 124.3h0M634.0 114.5h0M633.6 156.7h0M630.2 102.0h0M635.6 108.1h0M638.7 141.0h0M638.2 140.1h0M633.4 149.2h0M635.6 146.3h0M639.2 146.4h0M635.6 159.9h0M635.9 153.5h0M633.1 106.2h0M635.4 159.1h0M638.6 136.0h0M639.2 124.3h0M635.3 157.6h0M635.6 107.3h0M639.7 127.3h0M635.2 131.0h0M636.8 161.4h0M629.7 97.0h0M633.2 155.8h0M641.0 140.2h0M636.9 114.5h0M635.6 108.6h0M634.5 128.2h0M634.1 160.7h0M636.8 115.5h0M634.9 143.6h0M636.0 149.0h0M632.2 154.2h0M633.6 97.8h0M638.4 135.2h0M636.9 141.5h0M634.7 161.2h0M630.2 94.6h0M636.3 109.6h0M632.3 98.0h0M636.0 157.8h0M637.9 147.7h0M636.5 111.5h0M635.4 108.5h0M629.5 97.1h0M635.3 134.1h0M640.7 136.0h0M634.8 156.2h0M634.6 155.9h0M630.4 107.2h0M629.9 95.0h0M635.1 121.0h0M637.7 117.6h0M639.7 148.4h0M630.1 97.3h0M641.1 136.4h0M636.1 119.8h0M640.8 136.9h0M636.4 144.3h0M634.1 107.7h0M631.6 108.4h0M636.8 130.4h0M630.5 102.7h0M637.1 152.0h0M634.3 105.4h0M635.0 131.8h0M639.1 138.3h0M637.2 137.7h0M630.8 98.8h0M641.6 142.6h0M635.2 107.7h0M636.9 118.4h0M637.6 161.0h0M636.0 130.4h0M632.5 124.0h0M635.1 119.1h0M631.7 158.1h0M636.6 112.8h0M639.9 133.8h0M630.9 100.2h0M630.2 98.8h0M638.3 155.4h0M630.3 109.6h0M631.3 118.5h0M633.7 107.6h0M639.7 142.5h0M631.5 108.3h0M632.8 108.7h0M633.7 114.7h0M636.7 135.5h0M637.4 132.3h0M640.6 145.0h0M637.7 127.9h0M636.1 142.2h0M633.4 126.2h0M637.9 126.6h0M633.4 99.8h0M632.8 161.3h0M633.4 103.6h0M633.7 104.1h0M636.3 122.7h0M641.0 145.1h0M633.1 160.3h0M628.8 104.1h0M634.1 112.8h0M635.9 128.4h0M636.6 115.2h0M630.9 94.9h0M632.7 97.1h0M633.3 98.6h0M636.6 119.4h0M635.6 155.5h0M633.6 96.8h0M637.0 144.3h0M632.6 109.7h0M632.3 97.4h0M637.2 126.6h0M632.7 100.2h0M637.7 155.8h0M628.9 102.2h0M632.8 123.2h0M636.7 151.4h0M635.3 129.7h0M636.7 126.5h0M635.3 144.1h0M636.1 151.1h0M635.6 144.9h0M638.6 135.2h0M637.6 144.9h0M636.4 146.8h0M632.7 158.0h0M634.4 103.3h0M634.4 123.4h0M636.8 143.3h0M633.3 126.6h0M634.8 114.2h0M637.5 144.6h0M640.1 138.2h0M634.0 117.7h0M634.8 104.7h0M636.3 143.7h0M636.1 116.7h0M638.2 142.3h0M638.1 149.4h0M632.4 119.2h0M629.6 100.3h0M633.4 125.3h0M630.2 105.6h0M631.7 116.3h0M632.9 114.2h0M641.0 143.8h0M635.8 108.2h0M633.7 152.6h0M637.3 150.9h0M633.6 120.7h0M635.9 154.3h0M629.6 104.4h0M637.2 150.9h0M639.7 148.4h0M633.5 124.9h0M635.0 115.5h0M639.8 137.2h0M631.0 110.6h0M640.0 133.0h0M632.8 153.7h0M641.9 138.0h0M631.8 113.2h0M636.4 136.5h0M637.5 140.7h0M636.4 157.2h0M640.9 138.5h0M636.3 138.7h0M637.7 137.1h0M629.1 97.3h0M636.1 134.9h0M637.8 144.9h0M628.4 102.5h0M634.8 132.6h0M630.2 98.8h0M635.2 147.0h0M639.4 146.9h0M631.7 118.0h0M638.3 141.7h0M633.1 108.6h0M635.5 150.8h0M634.8 129.7h0M640.0 134.6h0M631.5 110.5h0M632.4 158.6h0M639.2 133.7h0M633.4 108.0h0M635.4 132.1h0M635.7 115.7h0M636.8 141.1h0M633.5 124.2h0M632.1 96.1h0M637.1 122.2h0M639.1 148.6h0M632.1 97.5h0M629.3 103.7h0M637.3 153.3h0M638.2 126.2h0M634.0 158.7h0M637.4 122.8h0M635.4 116.0h0M631.1 161.0h0M632.4 123.6h0M635.0 148.6h0M636.2 143.6h0M635.1 157.0h0M639.0 130.8h0M631.8 112.2h0M637.6 145.4h0M638.9 127.8h0M638.2 128.0h0M633.8 152.8h0M639.0 142.2h0M633.6 152.4h0M640.8 135.4h0M641.7 134.1h0M640.7 144.8h0M639.5 127.8h0M635.8 113.5h0M630.2 111.7h0" stroke="#7146b4" stroke-width="2.40" stroke-linecap="round" fill="none"/>
<path d="M452.1 40.9h0M452.9 30.1h0M452.1 24.2h0M449.4 36.4h0M453.1 37.2h0M451.3 34.5h0M452.3 33.1h0M450.6 39.6h0M450.7 40.8h0M452.6 38.2h0M452.8 42.7h0M450.7 36.9h0M449.1 20.9h0M451.1 38.1h0M453.0 28.6h0M451.3 31.8h0M449.4 20.0h0M451.4 31.6h0M452.9 24.2h0M452.8 26.2h0M451.4 36.3h0M449.7 41.8h0M453.3 42.3h0M452.0 40.2h0M449.9 22.9h0M452.6 26.0h0M454.4 88.0h0M448.9 49.6h0M452.4 53.3h0M451.0 57.7h0M451.1 74.6h0M451.1 66.8h0M452.9 89.4h0M454.9 50.7h0M451.6 66.5h0M452.5 94.0h0M461.5 146.0h0M461.7 135.8h0M454.5 121.1h0M458.9 118.5h0M462.0 132.9h0M459.5 146.5h0M456.8 117.5h0M455.7 119.9h0M455.2 130.4h0M463.6 148.2h0M466.8 161.2h0M463.3 164.9h0M462.7 168.2h0M468.1 196.7h0M462.7 150.8h0M465.5 195.0h0M463.9 195.4h0M464.0 162.1h0M463.3 153.3h0M462.3 170.4h0M463.7 171.8h0M462.5 194.1h0M459.6 160.5h0M461.4 153.1h0M530.3 193.6h0M478.1 239.1h0M524.1 201.4h0M565.8 118.3h0M585.8 95.0h0M589.9 92.1h0M472.8 229.0h0M483.2 245.3h0M563.4 121.2h0M590.0 93.5h0M516.1 215.3h0M568.6 111.9h0M563.3 124.5h0M553.7 143.3h0M493.9 241.4h0M521.4 206.8h0M552.0 143.2h0M528.8 192.8h0M576.3 101.7h0M584.0 94.8h0M476.0 236.1h0M552.8 142.3h0M596.8 91.7h0M590.0 92.2h0M481.7 242.8h0M575.6 102.8h0M472.5 224.3h0M513.4 219.5h0M571.5 108.8h0M473.3 226.6h0M537.1 173.3h0M539.2 170.8h0M472.0 230.5h0M541.0 168.5h0M553.4 143.7h0M537.5 177.7h0M537.4 174.6h0M483.9 245.3h0M605.5 89.2h0M587.5 93.9h0M600.1 90.5h0M563.6 123.8h0M580.2 99.0h0M534.6 180.5h0M540.3 171.2h0M537.1 178.7h0M571.8 109.6h0M473.4 231.4h0M562.5 127.1h0M507.1 225.9h0M510.5 222.7h0M562.4 126.6h0M563.4 123.9h0M555.5 139.4h0M513.8 217.7h0M563.1 126.9h0M528.9 192.9h0M572.4 110.1h0M476.7 239.9h0M532.4 187.2h0M488.1 243.7h0M580.7 98.2h0M537.2 175.5h0M492.0 241.7h0M574.8 106.7h0M526.7 198.3h0M567.4 114.4h0M539.1 172.9h0M492.1 241.6h0M536.4 180.8h0M540.6 167.1h0M548.9 148.9h0M516.1 215.7h0M488.6 245.1h0M501.0 235.8h0M527.8 198.7h0M521.9 204.0h0M586.9 93.9h0M556.3 137.9h0M606.0 89.4h0M589.5 92.2h0M475.4 235.7h0M479.9 241.8h0M475.2 236.0h0M514.2 218.6h0M521.8 209.0h0M563.6 123.9h0M490.6 243.6h0M537.6 177.7h0M569.2 113.3h0M525.7 199.8h0M531.8 190.7h0M570.2 113.5h0M560.3 129.1h0M472.2 225.6h0M507.0 227.5h0M592.7 91.6h0M526.4 198.7h0M511.3 221.7h0M524.0 201.3h0M574.8 104.3h0M572.5 110.2h0M573.4 106.6h0M589.0 92.0h0M573.7 106.3h0M520.7 210.1h0M549.5 151.3h0M526.4 199.0h0M553.2 144.7h0M498.9 236.5h0M473.9 232.7h0M508.4 225.6h0M530.1 192.0h0M584.2 96.4h0M550.0 149.6h0M593.8 91.7h0M510.7 222.1h0M556.3 137.2h0M556.0 137.9h0M536.5 177.5h0M541.5 165.3h0M522.7 203.7h0M553.4 141.0h0M585.9 96.0h0M576.9 103.0h0M529.8 193.0h0M519.9 210.9h0M472.3 225.7h0M549.7 150.2h0M516.1 213.5h0M475.3 232.6h0M518.6 213.1h0M569.2 114.1h0M571.2 109.7h0M570.4 110.0h0M539.0 169.8h0M556.2 136.2h0M479.9 243.1h0M555.5 135.7h0M554.5 138.3h0M543.8 163.7h0M579.9 98.0h0M516.8 212.1h0M509.2 225.1h0M569.5 114.6h0M473.5 233.4h0M487.2 243.3h0M499.7 235.9h0M544.9 159.4h0M510.5 223.0h0M481.6 245.3h0M516.0 215.0h0M563.6 125.0h0M549.9 148.0h0M536.4 175.7h0M508.3 226.5h0M550.8 147.7h0M548.7 152.8h0M495.1 239.8h0M524.6 202.3h0M530.5 194.8h0M509.6 224.9h0M552.8 141.9h0M572.3 108.2h0M531.9 189.2h0M566.4 116.9h0M560.8 129.5h0M494.2 240.0h0M477.4 240.2h0M559.0 130.5h0M522.2 206.2h0M474.2 232.5h0M482.2 243.8h0M493.3 243.0h0M562.9 126.3h0M551.7 145.8h0M526.0 197.7h0M500.1 236.3h0M562.9 124.2h0M540.2 168.7h0M564.6 123.0h0M530.4 193.4h0M473.1 230.3h0M560.2 127.8h0M550.0 150.4h0M499.4 235.5h0M568.4 111.7h0M620.8 108.2h0M621.9 104.9h0M619.8 104.0h0M621.3 100.2h0M621.2 108.8h0M618.5 118.6h0M617.5 117.7h0M619.8 104.1h0M619.0 110.3h0M619.6 109.0h0M618.7 113.9h0M620.8 102.7h0M620.7 103.5h0M620.0 103.8h0M620.3 110.2h0M619.8 103.1h0M620.9 104.0h0M620.6 108.8h0M619.9 103.4h0M622.0 108.7h0M620.0 106.6h0M619.3 113.5h0M622.3 107.2h0M619.4 111.9h0M619.9 114.0h0M619.5 116.3h0M621.1 102.0h0M618.3 119.5h0M621.2 104.9h0M619.6 102.9h0M626.7 94.5h0M627.7 89.0h0M627.6 95.0h0M629.7 119.5h0M631.8 118.2h0M629.8 102.0h0M629.8 95.2h0M628.6 111.9h0M626.0 89.8h0M630.5 107.1h0M629.6 118.4h0M627.0 100.9h0M629.6 98.3h0M629.3 113.8h0M627.5 94.8h0M630.3 108.6h0M626.3 102.7h0M628.9 106.7h0M628.8 116.5h0M627.1 109.2h0M629.3 100.5h0M626.9 110.8h0M626.5 103.0h0M630.9 107.9h0M627.7 109.0h0M626.8 95.5h0M628.3 88.5h0M628.6 110.5h0M628.1 117.3h0M626.3 99.0h0M627.5 111.3h0M627.7 100.0h0M630.2 106.8h0M629.2 107.4h0M628.2 99.3h0M628.0 101.5h0M631.3 119.4h0M629.1 113.8h0M627.0 89.7h0M627.1 97.2h0M625.6 88.4h0M627.0 100.8h0M630.8 106.8h0M629.6 114.5h0M629.5 110.3h0M627.8 103.1h0M626.2 92.6h0M628.4 108.7h0M630.8 115.2h0M628.0 93.3h0M626.6 101.8h0M628.6 100.2h0M627.0 98.3h0M628.3 90.4h0M628.1 110.8h0M628.2 92.5h0M626.8 101.2h0M632.5 119.1h0M625.4 93.2h0M627.8 104.2h0M627.6 102.1h0M629.1 115.0h0M624.6 89.3h0M628.5 105.3h0M625.1 89.2h0M610.1 91.8h0M575.1 102.5h0M616.7 94.9h0M587.2 93.1h0M603.6 88.5h0M590.3 93.3h0M589.8 91.9h0M613.8 93.6h0M622.5 92.0h0M619.4 91.9h0M589.2 92.4h0M623.8 87.6h0M616.0 93.2h0M589.3 92.8h0M614.8 92.8h0M585.3 96.2h0M609.7 89.6h0M620.0 92.0h0M602.2 90.3h0M583.9 95.3h0M584.4 95.9h0M591.1 90.4h0M603.9 91.4h0M613.6 94.7h0M575.2 102.9h0M612.2 93.6h0M623.3 90.4h0M600.1 90.6h0M601.7 90.3h0M610.9 91.1h0M598.8 89.7h0M584.8 95.1h0M623.6 90.3h0M602.9 88.7h0M619.7 94.3h0M597.1 90.9h0M589.0 93.7h0M601.2 90.4h0M622.5 91.1h0M609.1 91.6h0M621.0 91.4h0M613.9 94.0h0M582.4 96.6h0M579.7 98.3h0M595.8 91.2h0M606.0 88.0h0M593.7 93.4h0M592.1 93.0h0M603.6 89.5h0M593.8 90.9h0M608.4 90.0h0M600.7 88.7h0M594.5 92.0h0M580.6 100.9h0M610.0 90.1h0M611.9 90.7h0M607.3 90.1h0M592.9 93.1h0M600.8 88.9h0M623.2 88.6h0M576.4 102.5h0M590.0 92.5h0M586.5 93.6h0M624.2 89.5h0M592.6 90.3h0M582.0 96.4h0M611.5 91.6h0M619.5 95.0h0M592.3 90.7h0M593.3 90.4h0M586.5 94.1h0M610.3 90.0h0M576.4 101.2h0M593.4 91.4h0M612.0 91.5h0M593.9 92.1h0M592.2 91.4h0M619.5 95.6h0M601.1 89.8h0M580.8 99.9h0M618.5 91.9h0M625.9 89.2h0M608.5 90.5h0M585.4 95.0h0M586.2 95.6h0M601.2 89.9h0M636.4 125.7h0M634.6 154.7h0M635.9 148.3h0M634.4 120.1h0M636.7 126.9h0M634.9 156.3h0M636.5 135.8h0M633.0 160.0h0M634.8 128.9h0M635.6 136.3h0M636.0 142.7h0M636.8 143.2h0M637.9 144.6h0M636.5 134.5h0M636.7 144.2h0M636.4 137.8h0M637.3 143.2h0M635.1 153.1h0M634.0 118.8h0M635.3 151.9h0M637.0 146.3h0M636.3 135.6h0M637.9 139.2h0M636.3 153.3h0M637.0 136.6h0M637.4 131.1h0M636.0 157.5h0M635.7 150.8h0M634.9 127.1h0M636.7 131.1h0M636.0 143.3h0M634.5 152.8h0M634.2 154.8h0M636.1 129.2h0M635.4 145.3h0M638.5 138.9h0M637.0 135.0h0M636.2 124.5h0M635.8 147.4h0M633.0 120.5h0M636.0 128.8h0M635.6 135.2h0M634.3 121.9h0M635.4 120.0h0M635.5 121.6h0M634.5 122.7h0M635.0 130.6h0M637.4 134.1h0M635.1 147.5h0M635.0 150.2h0M637.7 143.4h0" stroke="#6a2d92" stroke-width="2.40" stroke-linecap="round" fill="none"/>
<path d="M452.8 30.3h0M451.3 31.0h0M453.0 29.3h0M452.7 32.2h0M452.9 38.5h0M451.2 35.1h0M450.9 33.7h0M450.6 37.5h0M449.9 84.6h0M451.3 65.5h0M452.0 90.3h0M455.3 106.2h0M455.1 91.1h0M453.6 104.0h0M453.3 108.9h0M448.5 47.4h0M626.4 114.9h0M626.9 109.8h0M625.6 107.3h0M625.9 110.1h0M624.6 97.3h0M625.4 108.9h0M625.1 96.1h0M624.4 108.3h0M625.9 104.7h0M625.5 99.5h0M623.6 88.3h0M624.4 98.1h0M626.8 105.9h0M622.3 88.2h0M625.1 106.3h0M624.2 105.3h0M625.0 109.0h0M623.1 98.4h0M624.0 92.9h0M626.6 105.6h0M625.8 95.6h0M623.7 102.6h0M624.5 93.1h0M625.7 114.8h0M625.9 98.6h0M624.9 110.9h0M624.8 103.9h0M626.1 111.3h0M623.3 99.5h0M623.0 95.3h0M625.0 111.8h0M623.5 95.2h0M623.8 103.4h0M626.3 98.8h0M624.7 109.4h0M625.5 101.4h0M625.4 113.7h0M623.6 87.1h0M625.9 109.4h0M626.0 106.5h0M628.6 119.5h0M625.0 102.7h0M625.9 107.7h0M623.1 96.7h0M622.6 89.0h0M623.8 88.8h0M626.5 102.2h0M628.0 116.0h0M625.6 110.4h0M625.7 99.1h0M624.1 89.2h0M622.0 88.4h0M625.1 92.4h0M623.4 93.3h0M624.1 102.9h0M623.0 87.4h0M627.9 120.6h0M629.9 119.0h0M621.8 87.7h0M623.6 92.7h0M623.5 94.3h0M629.7 121.8h0M627.0 110.2h0M628.0 122.9h0M624.7 101.5h0M624.4 89.7h0M626.7 115.2h0M626.7 115.6h0M626.8 110.9h0M623.3 94.2h0M626.5 114.0h0M627.2 113.0h0M624.7 105.4h0M627.1 123.6h0M624.3 100.4h0M626.4 103.7h0M625.6 99.9h0M622.4 94.3h0M626.7 108.2h0M627.7 111.0h0M625.9 111.1h0M627.6 108.2h0M624.8 105.4h0M623.5 94.8h0M621.1 87.8h0M626.7 106.4h0M628.3 123.0h0M626.3 105.2h0M625.6 94.7h0M624.2 101.7h0M627.3 121.2h0M623.8 100.1h0M626.1 100.6h0M628.6 121.8h0M624.0 97.5h0M627.8 110.9h0M626.8 113.8h0M625.4 100.8h0M623.3 99.3h0M626.4 107.4h0M626.2 108.0h0M627.0 109.9h0M625.9 102.4h0M627.8 118.7h0M624.3 100.8h0M626.2 102.8h0M627.2 104.3h0M627.2 117.1h0M623.3 90.2h0M623.0 92.6h0M630.3 123.9h0M626.3 113.8h0M627.7 112.6h0M626.2 113.4h0M628.0 113.6h0M623.6 85.4h0M626.8 109.9h0M627.8 110.5h0M625.5 109.7h0M623.0 88.5h0M626.9 118.4h0M627.6 121.3h0M623.9 93.8h0M626.0 106.9h0M627.0 102.6h0M624.5 91.6h0M624.1 92.0h0M627.4 114.0h0M627.3 123.3h0M625.5 95.8h0M624.1 89.1h0M623.8 88.1h0M484.8 232.3h0M485.5 233.5h0M487.3 234.8h0M491.4 234.0h0M493.9 234.8h0M488.0 231.0h0M490.0 237.0h0M497.2 200.0h0M497.0 214.5h0M502.5 209.0h0M504.0 213.0h0M498.0 200.7h0M491.0 165.6h0M515.6 167.3h0M516.7 175.5h0M512.6 183.1h0M517.9 181.9h0M520.2 179.0h0M516.1 186.6h0M516.7 187.8h0M501.0 189.5h0M501.5 191.3h0M501.0 193.6h0M510.3 196.5h0M503.9 198.9h0M498.6 200.0h0M523.7 174.3h0M524.3 176.1h0M526.1 169.7h0M527.8 166.2h0M529.6 165.6h0M456.6 184.8h0M456.5 194.6h0M450.9 193.2h0M455.9 193.7h0M453.4 180.3h0M453.5 197.1h0M454.5 194.2h0M456.4 189.3h0M453.9 179.3h0M454.2 189.5h0M449.9 174.1h0M456.0 189.6h0" stroke="#5c1a50" stroke-width="2.40" stroke-linecap="round" fill="none"/>
<polyline points="598.0,82.0 601.0,81.0 605.0,79.5 608.0,80.5 611.0,81.4 614.3,80.3 616.5,83.0 616.0,86.3 613.7,85.8 612.0,83.0 614.0,81.0 617.6,84.1 622.0,79.7 624.8,77.0 627.5,78.0 630.8,80.8 633.6,84.1 634.2,88.6 632.0,91.9" stroke="#3b0f2e" stroke-width="2.4" fill="none" stroke-linecap="round" stroke-linejoin="round"/>
<path d="M48.2 239.6h0M78.3 233.5h0M127.8 187.9h0M146.1 181.6h0M171.6 166.7h0M205.0 150.0h0M224.8 174.3h0M207.5 195.2h0M217.2 202.5h0M208.7 213.8h0M205.9 217.4h0M202.0 216.8h0M199.9 222.6h0M252.7 156.7h0M258.2 151.5h0M232.0 128.4h0M248.9 109.6h0M249.0 109.6h0M268.2 105.2h0M279.6 98.8h0M286.0 99.6h0M293.0 98.8h0M296.4 98.6h0M300.6 98.2h0M306.0 99.6h0M310.0 100.0h0M311.0 98.6h0M316.0 101.0h0M318.0 102.0h0M323.0 106.0h0M325.0 107.0h0M326.0 108.6h0M324.0 109.0h0M327.0 107.0h0M330.4 109.4h0M348.0 93.6h0M354.0 88.6h0M368.0 83.4h0M353.0 98.0h0M356.6 102.0h0M355.6 103.0h0M362.4 99.0h0M365.6 100.6h0M369.0 107.0h0M376.0 107.4h0M349.0 108.0h0M350.0 109.6h0M354.0 111.0h0M356.0 110.6h0M347.0 112.6h0M345.0 114.0h0M342.0 114.4h0M340.0 115.6h0M339.0 116.6h0M338.0 118.0h0M337.0 119.0h0M335.0 120.0h0M334.0 122.0h0M333.0 123.6h0M332.0 125.0h0M331.0 126.0h0M330.0 127.0h0M329.0 128.0h0M336.0 122.0h0M338.0 121.0h0M337.0 123.6h0M311.6 113.0h0M316.0 112.4h0M317.0 117.0h0M309.0 118.0h0M311.0 120.0h0M322.0 118.6h0M325.0 122.0h0M315.0 125.0h0M305.0 125.0h0M306.0 128.0h0M300.0 126.0h0M299.0 127.0h0M310.0 128.6h0M312.0 129.0h0M286.0 127.4h0M283.0 131.0h0M292.0 131.0h0M322.0 129.0h0M324.0 130.4h0M329.0 130.0h0M332.0 129.0h0M253.6 149.0h0M257.0 151.0h0M260.6 150.0h0M252.6 156.6h0M270.0 142.0h0M267.6 158.0h0M268.6 159.0h0M275.4 152.0h0M276.0 157.0h0M281.0 158.4h0M274.0 162.0h0M272.6 168.0h0M271.0 172.0h0M261.0 170.6h0M263.4 177.6h0M283.6 131.6h0M281.0 134.4h0M284.0 135.0h0M286.0 140.0h0M288.0 139.0h0M289.0 137.6h0M290.0 135.0h0M292.0 132.0h0M287.0 142.0h0M289.0 143.0h0M291.0 141.0h0M293.0 142.0h0M294.0 140.0h0M295.0 139.0h0M297.0 140.0h0M282.0 145.4h0M286.4 146.0h0M288.0 151.6h0M292.0 156.4h0M295.0 155.6h0M294.0 157.0h0M294.4 147.0h0M299.0 126.6h0M300.0 125.6h0M297.0 130.0h0M298.0 136.0h0M300.0 136.4h0M302.0 138.0h0M303.6 137.6h0M305.0 137.0h0M302.0 135.0h0M306.0 135.0h0M307.0 134.0h0M304.0 131.0h0M310.4 128.4h0M314.4 125.0h0M312.0 120.6h0M307.0 143.0h0M306.0 147.0h0M307.0 146.0h0M317.0 131.0h0M313.0 140.0h0M314.4 142.0h0M315.6 143.0h0M316.6 139.0h0M316.0 145.6h0M322.0 146.0h0M322.0 132.0h0M323.0 134.0h0M324.0 133.0h0M322.6 129.0h0M325.0 128.0h0M326.0 122.0h0M327.0 135.0h0M329.0 134.0h0M329.0 128.0h0M331.0 130.0h0M332.0 127.0h0M333.6 129.0h0M335.0 128.0h0M330.4 123.0h0M332.0 122.0h0M334.0 123.0h0M335.6 121.6h0M337.0 122.4h0M338.0 121.0h0M340.6 137.6h0M416.0 33.6h0M426.0 30.4h0M417.0 43.6h0M414.0 45.0h0M424.0 42.4h0M428.4 41.6h0M407.0 52.0h0M410.0 52.4h0M403.0 53.0h0M396.6 58.0h0M400.4 66.0h0M416.0 63.0h0M415.0 67.4h0M422.4 66.0h0M428.0 63.0h0M430.6 62.0h0M432.0 56.0h0M434.0 58.0h0M436.0 56.0h0M438.0 56.6h0M439.0 57.6h0M437.0 54.0h0M432.0 53.0h0M437.6 49.6h0M439.6 44.0h0M435.0 60.0h0M440.0 62.0h0M444.0 64.0h0M443.0 65.0h0M381.0 73.0h0M383.0 78.0h0M391.0 71.6h0M392.4 73.6h0M398.0 72.6h0M389.6 77.6h0M418.4 75.0h0M424.0 74.0h0M428.0 75.0h0M431.0 74.0h0M434.0 74.4h0M437.0 75.0h0M441.0 75.0h0M426.0 70.0h0M441.0 79.0h0M440.0 78.0h0M409.0 78.0h0M403.0 84.0h0M405.0 86.0h0M389.0 85.0h0M368.0 83.4h0M354.0 89.0h0M390.0 90.4h0M400.0 90.6h0M409.0 90.0h0M411.0 89.6h0M422.0 84.0h0M425.0 85.0h0M431.0 89.0h0M440.0 89.0h0M424.1 74.4h0M427.0 75.3h0M428.2 75.8h0M431.7 73.5h0M431.1 75.8h0M435.2 74.9h0M436.4 75.3h0M438.7 78.4h0M440.4 78.8h0M441.6 75.3h0M425.8 70.6h0M423.5 84.6h0M425.3 84.6h0M421.2 87.5h0M428.2 88.1h0M430.5 90.4h0M431.7 91.6h0M440.4 87.5h0M443.9 90.1h0M448.6 90.4h0M446.3 94.0h0M447.4 94.5h0M448.6 95.1h0M450.1 97.4h0M434.6 96.3h0M435.2 97.4h0M420.6 101.5h0M436.9 102.7h0M439.9 101.0h0M442.8 99.8h0M445.1 101.0h0M444.5 107.1h0M429.3 110.3h0M437.5 110.3h0M448.6 110.6h0M439.9 105.0h0M442.2 115.3h0M448.0 117.6h0M455.0 121.7h0M456.2 120.5h0M458.0 127.5h0M460.9 130.4h0M424.0 147.0h0M428.8 151.5h0M437.5 110.0h0M437.0 55.5h0M438.5 57.0h0M440.0 58.0h0M439.0 56.0h0M436.5 57.5h0M441.0 59.5h0M433.0 50.6h0M431.0 55.5h0M433.0 57.5h0M442.0 63.5h0M444.5 64.0h0M446.5 64.5h0M381.6 95.0h0M394.0 93.0h0M415.0 116.0h0M415.6 110.0h0M444.0 94.5h0M446.0 96.0h0M448.0 97.5h0M450.0 99.0h0M631.8 98.3h0M631.9 104.1h0M632.2 97.7h0M631.9 109.6h0M632.5 112.1h0M632.0 113.9h0M633.2 116.0h0M633.2 106.3h0M633.6 97.8h0M632.8 115.0h0M632.3 99.6h0M631.9 105.2h0M631.5 93.8h0M631.5 93.1h0M634.0 114.3h0M632.4 107.1h0M631.5 96.2h0M632.3 100.3h0M632.8 104.6h0M631.2 111.7h0M635.1 116.3h0M631.3 99.7h0M633.0 96.1h0M633.8 108.7h0M632.0 102.4h0M633.2 96.9h0M631.3 94.2h0M633.3 108.6h0M632.6 112.5h0M632.8 107.8h0M634.3 114.4h0M632.4 110.0h0M632.7 112.9h0M631.2 92.4h0M634.0 111.6h0M632.2 103.7h0M632.1 102.4h0M633.6 111.1h0M631.7 91.9h0M632.5 103.7h0M632.7 112.7h0M632.8 99.3h0M632.8 114.8h0M633.2 112.0h0M633.3 115.8h0M631.8 109.9h0M527.4 131.5h0M529.7 126.8h0M532.0 129.1h0M536.7 128.0h0M537.3 119.2h0M541.4 120.4h0M542.0 118.0h0M540.2 117.5h0M543.7 113.4h0M542.0 109.3h0M547.2 111.0h0M548.4 108.7h0M547.8 106.4h0M549.6 105.8h0M549.0 101.7h0M550.7 102.9h0M551.9 104.0h0M553.7 99.9h0M555.4 98.2h0M557.2 96.4h0M558.9 94.7h0M559.5 92.9h0M550.7 95.3h0M551.9 93.5h0M553.1 90.6h0M563.0 91.2h0M564.8 92.9h0M566.5 91.8h0M555.4 102.3h0M542.3 108.5h0M547.0 101.5h0M550.5 98.0h0M552.8 93.4h0M555.2 85.2h0M558.7 81.1h0M562.2 77.0h0M565.7 74.7h0M548.2 107.4h0M551.7 102.7h0M555.2 98.0h0M558.7 93.4h0M562.2 90.4h0M564.5 87.5h0M568.0 81.7h0M566.9 77.0h0M560.0 79.0h0M563.5 76.0h0M567.0 79.5h0M569.0 84.0h0M575.7 91.6h0M569.0 90.3h0M571.0 84.1h0M567.2 89.6h0M570.0 84.1h0M572.9 87.7h0M571.4 91.0h0M568.8 88.7h0M575.4 87.1h0M569.7 87.4h0M567.7 85.9h0M570.5 93.4h0M576.8 92.5h0M574.9 88.9h0M576.3 88.6h0M567.4 89.1h0M567.5 88.0h0M568.5 89.7h0M574.5 93.5h0M571.3 86.7h0M575.0 89.4h0M574.1 86.2h0M576.6 87.5h0M571.6 85.6h0M569.5 92.2h0M574.0 84.4h0M569.9 91.2h0M571.0 91.7h0M574.5 92.7h0M573.9 88.8h0M466.5 140.3h0M473.9 150.6h0M494.9 160.9h0M474.1 147.8h0M467.3 142.0h0M488.3 157.5h0M477.8 155.7h0M473.7 152.1h0M474.9 147.5h0M475.3 154.3h0M477.5 156.0h0M484.6 154.3h0M472.6 148.6h0M465.3 141.9h0M492.8 161.2h0M475.1 146.5h0M477.9 156.5h0M494.1 161.5h0M467.4 145.1h0M483.8 157.0h0M464.2 143.6h0M468.8 143.1h0M466.3 144.1h0M492.9 160.1h0M474.2 152.7h0M491.7 159.7h0M494.8 159.0h0M482.9 156.4h0M466.3 144.1h0M465.7 141.3h0M492.7 162.4h0M474.3 152.1h0M471.0 144.4h0M475.7 150.1h0M473.8 153.2h0M468.7 145.1h0M475.4 154.8h0M481.2 155.3h0M472.5 146.1h0M470.5 150.3h0M471.0 146.6h0M484.2 154.1h0M489.0 161.1h0M470.7 147.1h0M478.2 156.0h0M490.2 162.6h0M477.3 154.5h0M473.1 146.1h0M471.0 143.5h0M464.2 143.1h0M486.2 159.6h0M489.1 161.0h0M466.7 143.1h0M470.3 147.1h0M478.2 150.7h0M465.9 141.8h0M466.2 142.3h0M493.3 159.6h0M483.7 153.8h0M471.7 151.1h0M489.7 157.0h0M484.3 157.5h0M482.5 157.0h0M467.7 143.4h0M485.1 160.1h0M488.9 157.4h0M485.4 160.3h0M488.1 161.6h0M476.3 153.0h0M471.9 147.5h0M486.0 159.5h0M471.4 146.9h0M466.3 146.1h0M469.4 142.4h0M473.5 146.2h0M481.6 153.6h0M475.2 154.5h0M475.7 151.3h0M490.6 159.6h0M490.7 161.3h0M481.9 154.5h0M475.1 149.6h0M464.2 141.6h0M479.5 151.6h0M475.9 151.1h0M474.6 151.3h0M467.7 143.2h0M473.4 146.4h0M471.0 143.2h0M465.0 144.5h0M474.8 152.9h0M480.6 155.9h0M474.4 152.7h0M474.2 146.2h0M465.6 145.9h0M492.2 159.4h0M488.2 158.1h0M483.9 153.5h0M471.0 145.7h0M482.8 153.9h0M469.2 143.4h0M490.1 159.4h0M478.0 154.3h0M471.3 144.3h0M482.1 158.7h0M489.8 161.7h0M484.9 155.4h0M488.5 157.3h0M483.5 158.9h0M470.3 144.6h0M493.2 160.7h0M471.0 145.3h0M477.9 150.9h0M464.4 143.2h0M493.4 162.2h0M477.2 151.4h0M477.3 156.4h0M468.4 143.3h0M466.7 144.3h0M487.8 160.4h0M494.2 161.0h0M471.3 148.8h0M485.0 155.5h0M470.2 147.6h0M476.1 149.4h0M492.2 158.8h0M491.4 160.0h0M472.0 149.8h0M471.8 149.9h0M474.0 148.6h0M491.8 157.7h0M479.2 154.7h0M465.6 144.4h0M480.1 151.9h0M474.0 147.1h0M472.5 148.4h0M477.6 151.2h0M499.9 155.0h0M507.2 154.3h0M499.9 153.4h0M507.1 154.3h0M506.6 155.8h0M502.9 153.9h0M497.2 147.8h0M506.4 154.9h0M504.0 147.6h0M500.0 155.5h0M498.0 147.7h0M497.5 151.0h0M507.0 155.5h0M499.4 154.8h0M500.4 149.3h0M503.5 151.1h0M506.1 156.0h0M508.7 154.7h0M500.6 150.8h0M498.4 151.9h0M505.7 148.0h0M497.5 154.1h0M512.5 151.8h0M500.4 152.0h0M503.4 151.5h0M517.5 149.4h0M491.2 158.9h0M510.4 153.1h0M522.3 144.1h0M519.2 150.9h0M517.0 151.3h0M499.9 154.3h0M519.4 149.0h0M490.4 156.2h0M493.3 155.3h0M510.6 152.2h0M519.6 150.9h0M519.4 149.8h0M505.3 150.5h0M492.5 158.7h0M499.0 152.5h0M520.5 145.6h0M509.9 151.7h0M521.9 145.1h0M518.9 149.5h0M509.8 151.5h0M519.4 145.9h0M516.7 149.7h0M506.9 151.6h0M496.6 152.6h0M517.4 153.0h0M505.0 151.4h0M517.8 148.9h0M514.8 151.6h0M512.9 154.1h0M519.3 148.5h0M522.2 144.6h0M503.0 152.0h0M506.3 149.5h0M513.6 154.2h0M492.6 155.7h0M514.1 153.3h0M505.5 149.1h0M496.8 155.4h0M507.9 151.3h0M516.2 150.9h0M515.7 150.9h0M520.6 144.2h0M518.4 149.8h0M504.8 150.9h0M491.1 156.3h0M517.1 151.0h0M498.7 154.8h0M491.5 156.9h0M494.4 154.0h0M520.0 144.9h0M521.1 148.0h0M511.8 151.5h0M492.5 155.9h0M506.7 150.9h0M518.8 148.5h0M510.5 150.3h0M496.0 154.4h0M509.8 151.3h0M518.9 148.6h0M514.1 153.7h0M507.1 151.0h0M517.3 149.7h0M518.3 151.2h0M517.2 150.2h0M521.5 146.2h0M511.9 152.4h0M519.3 143.8h0M503.4 152.6h0M491.7 155.5h0M515.3 152.1h0M520.7 148.2h0M501.9 150.6h0M515.5 152.0h0M492.3 157.6h0M524.3 135.4h0M521.6 142.8h0M524.0 142.3h0M522.6 137.4h0M530.3 131.2h0M524.0 143.0h0M520.3 142.2h0M523.4 136.7h0M532.6 127.1h0M528.8 131.9h0M527.3 133.1h0M527.1 135.4h0M522.8 144.3h0M527.1 132.1h0M523.1 144.9h0M536.6 129.2h0M536.0 127.7h0M520.4 143.6h0M527.5 134.6h0M522.1 137.6h0M535.1 124.9h0M450.4 150.6h0M443.6 149.9h0M443.0 165.5h0M452.9 160.8h0M454.7 156.6h0M454.8 165.1h0M453.1 149.7h0M453.9 151.7h0M443.0 148.5h0M456.9 145.2h0M455.6 164.4h0M457.0 161.1h0M445.8 169.8h0M454.7 151.6h0M446.2 164.2h0M450.9 167.3h0M447.6 149.9h0M454.1 146.6h0M446.7 155.4h0M451.0 157.9h0M456.6 165.7h0M444.3 148.6h0M452.7 154.4h0M444.9 153.6h0M453.5 159.2h0M445.7 167.7h0M457.4 165.3h0M446.6 146.5h0M452.5 161.5h0M456.7 145.6h0M445.5 168.4h0M456.3 165.5h0M443.4 164.2h0M448.4 153.1h0M453.6 155.8h0M456.5 152.0h0M445.6 146.9h0M456.0 154.5h0M444.1 150.5h0M453.0 169.3h0M457.9 169.7h0M447.3 153.8h0M456.1 145.6h0M447.1 167.3h0M448.5 164.8h0M448.6 169.1h0M443.0 163.3h0M457.5 164.9h0M455.9 152.9h0M450.8 157.6h0M442.6 150.6h0M446.4 168.4h0M457.0 153.6h0M447.8 149.5h0M446.2 147.1h0M457.1 153.6h0M445.0 147.3h0M448.4 165.6h0M457.1 151.1h0M443.4 154.4h0M446.7 152.6h0M456.5 168.4h0M456.9 157.7h0M447.2 147.0h0M455.5 166.4h0M455.3 166.2h0M448.8 166.6h0M447.6 168.6h0M447.9 159.4h0M443.2 150.7h0M446.6 161.0h0M448.7 160.4h0M446.1 147.6h0M454.5 159.8h0M456.3 167.9h0M457.1 138.4h0M452.0 145.8h0M458.3 147.9h0M457.1 135.4h0M457.9 138.7h0M454.7 136.3h0M456.9 148.5h0M453.6 135.3h0M454.6 135.2h0M451.7 140.0h0M454.3 132.2h0M458.6 148.9h0M457.5 137.2h0M455.9 147.7h0M457.3 148.6h0M456.8 137.5h0M473.2 149.6h0M466.6 139.6h0M472.7 147.4h0M472.3 135.8h0M459.8 136.0h0M473.6 146.8h0M460.1 135.3h0M471.5 138.3h0M470.4 138.7h0M472.0 141.4h0M472.6 142.3h0M470.9 138.5h0M466.5 147.2h0M465.2 141.1h0M462.7 150.6h0M470.4 140.5h0M462.4 136.4h0M461.1 152.4h0M472.6 145.3h0M472.1 146.7h0M469.3 154.9h0M466.9 146.7h0M469.4 145.9h0M463.9 144.7h0M463.0 157.7h0M463.0 149.9h0M459.5 143.8h0M460.6 150.3h0M469.5 136.0h0M472.5 148.6h0M471.7 153.2h0M466.3 141.6h0M473.9 145.1h0M471.8 134.6h0M466.8 151.9h0M468.9 145.3h0M471.2 134.4h0M472.1 151.1h0M466.0 143.9h0M468.7 155.6h0M461.6 143.3h0M466.8 142.5h0M463.1 145.7h0M464.7 148.2h0M466.4 154.0h0M530.0 126.7h0M537.0 128.4h0M534.0 124.0h0M531.0 123.0h0M482.6 169.4h0M477.7 169.6h0M481.0 165.5h0M473.3 164.4h0M476.3 163.5h0M474.9 175.1h0M482.0 165.9h0M475.0 173.8h0M475.3 166.9h0M476.4 163.6h0M472.4 164.9h0M479.9 166.9h0M481.4 175.3h0M476.9 165.4h0M455.8 197.5h0M460.0 222.4h0M460.7 224.0h0M464.9 228.2h0M469.0 233.0h0M469.9 242.3h0M477.3 247.2h0M475.7 249.7h0M461.6 218.2h0M466.5 233.0h0M452.0 193.0h0M453.0 199.0h0M456.0 204.0h0M458.0 215.0h0M462.0 227.0h0M485.5 165.0h0M482.2 166.6h0M484.7 162.0h0M490.2 167.1h0M474.3 165.0h0M489.3 167.8h0M483.6 162.6h0M470.5 161.9h0M472.0 166.8h0M483.8 165.8h0M477.1 159.3h0M484.3 157.3h0M490.3 165.0h0M480.8 173.5h0M489.5 162.0h0M472.1 172.1h0M485.0 163.4h0M475.4 154.5h0M488.0 168.6h0M485.1 157.4h0M469.3 159.7h0M475.3 166.6h0M489.4 166.2h0M481.4 171.3h0M484.9 173.4h0M475.5 175.9h0M491.3 170.3h0M469.3 162.3h0M487.0 158.3h0M479.6 160.8h0M471.9 166.6h0M476.7 172.7h0M477.1 170.5h0M473.2 155.0h0M469.2 159.3h0M473.2 168.2h0M482.8 174.7h0M482.8 166.4h0M482.8 157.0h0M477.5 175.2h0" stroke="#3b0f2e" stroke-width="2.40" stroke-linecap="round" fill="none"/>
<polygon points="446.0,8.2 449.0,6.8 451.5,7.2 452.0,10.0 449.0,11.3 446.0,11.0" fill="#f20000"/>
<polyline points="568.5,87.0 572.0,88.0 575.0,88.5 578.5,89.9 584.4,91.6 588.0,89.5 591.4,87.5 596.6,83.0 603.2,80.8 607.7,84.1 612.0,89.7 616.0,93.0 619.8,89.7 624.2,84.1 626.8,81.0 628.7,86.0 629.0,92.0 629.0,98.0 631.0,106.0" stroke="#f20000" stroke-width="3.4" fill="none" stroke-linecap="round" stroke-linejoin="round"/>
<polyline points="631.0,106.0 635.0,104.0 638.9,100.0 639.9,104.0 636.9,112.0 635.9,119.8 636.9,127.8 639.9,133.7 641.9,137.7 642.9,140.7 638.9,141.7 634.9,143.7 632.9,147.7 632.9,151.6 633.6,155.5" stroke="#f20000" stroke-width="3.9" fill="none" stroke-linecap="round" stroke-linejoin="round"/>
<path d="M456.4 84.6h0M458.0 91.4h0M457.6 65.0h0M448.0 115.3h0M454.0 163.0h0M452.9 167.7h0M456.4 158.4h0M451.0 157.0h0M452.0 161.0h0M453.0 165.0h0M452.5 170.0h0M453.5 174.0h0M454.0 178.0h0M455.0 182.0h0M456.0 186.0h0M457.0 189.0h0M456.6 206.6h0M457.5 208.0h0M458.5 210.0h0M459.0 207.5h0M457.0 209.5h0M462.4 215.7h0M466.5 222.4h0M464.9 239.0h0M465.7 229.8h0M469.9 217.4h0M473.0 207.4h0M474.0 209.0h0M475.0 210.0h0M475.6 204.0h0M478.0 196.7h0M478.0 200.0h0M481.5 195.0h0M485.0 195.0h0M490.0 195.0h0M483.0 194.7h0M489.0 194.7h0M479.6 198.2h0M507.4 167.3h0M510.9 166.8h0M508.6 169.7h0M505.6 172.6h0M505.0 176.1h0M503.3 179.6h0M500.4 179.6h0M498.0 180.2h0M496.3 181.4h0M494.5 182.5h0M501.5 182.5h0M499.2 183.1h0M497.0 181.0h0M499.0 181.5h0M494.0 186.6h0M488.7 194.8h0M487.5 196.0h0M484.0 195.4h0M482.3 194.8h0M495.1 195.4h0M479.3 198.9h0M476.4 204.1h0M537.2 166.2h0M526.6 143.0h0M528.0 145.0h0M529.5 147.0h0M531.3 150.0h0M527.5 148.0h0M518.4 151.0h0M519.5 153.0h0M520.7 156.0h0M510.0 156.0h0M512.0 157.5h0M514.0 158.5h0M516.0 160.5h0M531.3 156.0h0M533.0 158.0h0M534.8 160.5h0M531.5 155.0h0M533.0 157.0h0M535.0 159.0h0M537.0 161.0h0M538.0 163.5h0M536.0 165.0h0M534.0 167.0h0M540.0 158.0h0M542.0 156.0h0M544.4 154.0h0M546.0 151.0h0M548.0 148.0h0M549.5 145.0h0M551.4 142.0h0M552.5 140.0h0M535.0 156.5h0M536.5 158.0h0M533.5 160.0h0M562.4 114.0h0M566.0 118.0h0M556.6 123.3h0M558.0 124.0h0M559.0 123.5h0M560.0 125.0h0M557.5 125.0h0M554.8 128.5h0M555.2 128.6h0M554.6 131.5h0M551.7 135.0h0M551.7 138.5h0M549.3 141.0h0M569.2 104.1h0M562.2 114.0h0M565.7 118.1h0M568.3 93.5h0M568.3 95.8h0M568.9 104.0h0M408.4 24.9h0M410.6 24.6h0M412.9 25.1h0M416.0 23.0h0M417.4 22.6h0M419.1 22.5h0M420.4 21.8h0M421.9 21.6h0M423.8 20.7h0M425.0 20.4h0M426.2 19.7h0M428.1 19.0h0M429.7 18.8h0M430.7 16.9h0M433.8 15.5h0M439.9 12.5h0M441.3 11.8h0M443.2 11.5h0M444.9 10.3h0M446.0 9.9h0M447.8 10.0h0M448.9 9.2h0M451.3 8.5h0" stroke="#f20000" stroke-width="3.50" stroke-linecap="round" fill="none"/>
<path d="M456.4 84.6h0M458.0 91.4h0M457.6 65.0h0M448.0 115.3h0M454.0 163.0h0M452.9 167.7h0M456.4 158.4h0M451.0 157.0h0M452.0 161.0h0M453.0 165.0h0M452.5 170.0h0M453.5 174.0h0M454.0 178.0h0M455.0 182.0h0M456.0 186.0h0M457.0 189.0h0M456.6 206.6h0M457.5 208.0h0M458.5 210.0h0M459.0 207.5h0M457.0 209.5h0M462.4 215.7h0M466.5 222.4h0M464.9 239.0h0M465.7 229.8h0M469.9 217.4h0M473.0 207.4h0M474.0 209.0h0M475.0 210.0h0M475.6 204.0h0M478.0 196.7h0M478.0 200.0h0M481.5 195.0h0M485.0 195.0h0M490.0 195.0h0M483.0 194.7h0M489.0 194.7h0M479.6 198.2h0M507.4 167.3h0M510.9 166.8h0M508.6 169.7h0M505.6 172.6h0M505.0 176.1h0M503.3 179.6h0M500.4 179.6h0M498.0 180.2h0M496.3 181.4h0M494.5 182.5h0M501.5 182.5h0M499.2 183.1h0M497.0 181.0h0M499.0 181.5h0M494.0 186.6h0M488.7 194.8h0M487.5 196.0h0M484.0 195.4h0M482.3 194.8h0M495.1 195.4h0M479.3 198.9h0M476.4 204.1h0M537.2 166.2h0M526.6 143.0h0M528.0 145.0h0M529.5 147.0h0M531.3 150.0h0M527.5 148.0h0M518.4 151.0h0M519.5 153.0h0M520.7 156.0h0M510.0 156.0h0M512.0 157.5h0M514.0 158.5h0M516.0 160.5h0M531.3 156.0h0M533.0 158.0h0M534.8 160.5h0M531.5 155.0h0M533.0 157.0h0M535.0 159.0h0M537.0 161.0h0M538.0 163.5h0M536.0 165.0h0M534.0 167.0h0M540.0 158.0h0M542.0 156.0h0M544.4 154.0h0M546.0 151.0h0M548.0 148.0h0M549.5 145.0h0M551.4 142.0h0M552.5 140.0h0M535.0 156.5h0M536.5 158.0h0M533.5 160.0h0M562.4 114.0h0M566.0 118.0h0M556.6 123.3h0M558.0 124.0h0M559.0 123.5h0M560.0 125.0h0M557.5 125.0h0M554.8 128.5h0M555.2 128.6h0M554.6 131.5h0M551.7 135.0h0M551.7 138.5h0M549.3 141.0h0M569.2 104.1h0M562.2 114.0h0M565.7 118.1h0M568.3 93.5h0M568.3 95.8h0M568.9 104.0h0M409.5 25.2h0M411.5 24.8h0M416.5 23.0h0M417.7 22.8h0M419.5 22.2h0M421.2 20.6h0M423.5 20.4h0M425.6 19.2h0M428.3 19.2h0M441.0 14.8h0M443.0 12.0h0M449.0 10.8h0M432.0 16.0h0M447.0 9.5h0" stroke="#4a1445" stroke-width="1.60" stroke-linecap="round" fill="none"/></g>
<line x1="388.0" y1="259.2" x2="677.5" y2="16.8" stroke="#14a014" stroke-width="1.7" stroke-linecap="round" stroke-dasharray="4.6 2.95 1.0 2.95" stroke-dashoffset="0.0" fill="none"/>
<rect x="577" y="65.5" width="27" height="11.5" fill="#fff"/>
<text x="578.5" y="75.9" class="lab">CDW</text>
<text x="487" y="258.0" class="lab">WW</text>
<rect x="38.0" y="2.5" width="639.5" height="256.7" fill="none" stroke="#5a5a5a" stroke-width="1"/>
<line x1="62.40" y1="259.2" x2="62.40" y2="254.39999999999998" class="tk"/>
<text transform="translate(62.40,271.00) scale(1,1.08)" class="tl" text-anchor="middle">32.5</text>
<line x1="185.45" y1="259.2" x2="185.45" y2="254.39999999999998" class="tk"/>
<text transform="translate(185.45,271.00) scale(1,1.08)" class="tl" text-anchor="middle">33.0</text>
<line x1="308.50" y1="259.2" x2="308.50" y2="254.39999999999998" class="tk"/>
<text transform="translate(308.50,271.00) scale(1,1.08)" class="tl" text-anchor="middle">33.5</text>
<line x1="431.55" y1="259.2" x2="431.55" y2="254.39999999999998" class="tk"/>
<text transform="translate(431.55,271.00) scale(1,1.08)" class="tl" text-anchor="middle">34.0</text>
<line x1="554.60" y1="259.2" x2="554.60" y2="254.39999999999998" class="tk"/>
<text transform="translate(554.60,271.00) scale(1,1.08)" class="tl" text-anchor="middle">34.5</text>
<line x1="677.65" y1="259.2" x2="677.65" y2="254.39999999999998" class="tk"/>
<text transform="translate(677.65,271.00) scale(1,1.08)" class="tl" text-anchor="middle">35.0</text>
<line x1="38.0" y1="259.20" x2="42.8" y2="259.20" class="tk"/>
<text transform="translate(32.5,263.70) scale(1,1.08)" class="tl" text-anchor="end">0</text>
<line x1="38.0" y1="216.41" x2="42.8" y2="216.41" class="tk"/>
<text transform="translate(32.5,220.91) scale(1,1.08)" class="tl" text-anchor="end">0.5</text>
<line x1="38.0" y1="173.63" x2="42.8" y2="173.63" class="tk"/>
<text transform="translate(32.5,178.13) scale(1,1.08)" class="tl" text-anchor="end">1.0</text>
<line x1="38.0" y1="130.84" x2="42.8" y2="130.84" class="tk"/>
<text transform="translate(32.5,135.34) scale(1,1.08)" class="tl" text-anchor="end">1.5</text>
<line x1="38.0" y1="88.06" x2="42.8" y2="88.06" class="tk"/>
<text transform="translate(32.5,92.56) scale(1,1.08)" class="tl" text-anchor="end">2.0</text>
<line x1="38.0" y1="45.28" x2="42.8" y2="45.28" class="tk"/>
<text transform="translate(32.5,49.78) scale(1,1.08)" class="tl" text-anchor="end">2.5</text>
<line x1="38.0" y1="2.49" x2="42.8" y2="2.49" class="tk"/>
<text transform="translate(32.5,6.99) scale(1,1.08)" class="tl" text-anchor="end">3.0</text>
<text x="358" y="288" class="al" text-anchor="middle">Absolute salinity (g kg<tspan dy="-3.5" font-size="7.5">−1</tspan><tspan dy="3.5">)</tspan></text>
<text transform="translate(9.0,136.6) rotate(-90)" class="al" style="font-size:11.3px" text-anchor="middle">Conservative temperature, <tspan font-style="italic">θ</tspan> (°C)</text>
<rect x="62.3" y="19.6" width="192.2" height="51.199999999999996" fill="#fff" stroke="none"/>
<path d="M88.8 62.3h0M69.5 65.8h0M69.8 66.5h0M75.1 66.6h0M79.6 63.0h0M85.4 62.4h0M82.4 63.0h0M73.0 66.2h0M86.4 62.2h0M92.3 63.3h0M90.3 62.2h0M82.1 64.7h0M74.6 65.3h0M69.1 65.6h0M90.7 62.4h0M77.6 63.2h0M78.3 64.4h0M69.2 67.9h0M64.7 65.9h0M68.3 66.2h0M72.7 67.0h0M67.3 65.1h0M82.0 65.2h0M69.9 65.9h0M73.2 66.5h0M70.4 65.1h0M90.0 61.9h0M93.8 65.4h0M74.2 67.1h0M66.0 66.5h0M65.9 66.1h0M78.4 65.5h0M93.5 65.1h0M84.9 63.4h0M81.3 64.3h0M66.3 66.0h0M70.7 66.2h0M74.5 66.0h0M69.9 65.9h0M76.0 64.0h0M76.8 66.5h0M78.1 62.4h0M88.9 62.1h0M84.9 62.3h0M83.6 62.7h0M79.8 65.0h0M79.9 63.5h0M80.3 64.2h0M82.6 64.1h0M73.6 68.2h0M86.2 63.7h0M65.6 66.7h0M64.2 67.8h0M84.9 62.4h0M85.5 63.2h0M80.1 63.3h0M72.9 65.9h0M79.9 64.4h0M82.3 65.3h0M82.5 64.3h0M88.6 63.5h0M93.2 65.4h0M76.1 64.1h0M87.9 63.4h0M84.7 63.3h0M79.5 64.0h0M64.1 66.0h0M70.9 66.1h0M84.7 62.6h0M69.3 66.3h0M91.2 62.4h0M82.9 64.7h0M70.9 68.3h0M88.5 61.6h0M87.6 61.1h0M84.7 61.4h0M92.9 63.1h0M89.0 63.3h0M83.0 63.1h0M67.1 66.8h0M67.0 66.8h0M67.3 67.6h0M92.2 63.6h0M82.2 62.9h0M85.6 63.1h0M88.8 61.9h0M69.0 65.2h0M70.8 68.2h0M92.0 63.8h0M95.1 65.4h0M92.2 65.0h0M78.9 65.1h0M77.5 64.0h0M66.4 67.6h0M90.4 62.9h0M82.9 63.8h0M77.1 64.5h0M95.4 65.6h0M76.0 66.4h0M95.5 65.5h0M87.4 60.7h0M93.9 65.6h0M80.1 63.1h0M78.3 65.7h0M77.2 65.5h0M92.4 63.6h0M84.5 61.7h0M75.4 65.8h0M70.7 67.0h0M90.0 64.7h0M94.8 65.8h0M80.3 64.3h0M168.0 47.5h0M134.5 56.2h0M160.8 50.7h0M118.2 57.9h0M112.1 61.8h0M128.5 55.2h0M132.9 54.4h0M130.6 57.2h0M115.5 60.0h0M142.3 54.0h0M101.8 64.2h0M99.6 65.0h0M113.3 60.2h0M135.2 53.8h0M141.1 55.1h0M119.1 56.1h0M134.2 56.3h0M139.9 53.9h0M103.8 62.3h0M127.3 57.0h0M120.9 57.2h0M99.5 65.1h0M157.6 50.3h0M131.5 56.2h0M157.0 50.4h0M139.2 55.0h0M116.3 60.5h0M163.3 48.4h0M137.4 55.8h0M133.7 54.0h0M136.1 53.5h0M118.2 58.4h0M104.0 63.5h0M98.9 64.0h0M127.2 56.6h0M110.9 62.6h0M152.6 51.9h0M170.0 49.3h0M161.8 50.2h0M138.4 55.0h0M138.2 55.6h0M167.9 46.9h0M106.4 62.6h0M106.6 62.8h0M159.2 50.4h0M110.3 62.8h0M99.0 64.7h0M164.9 47.1h0M172.5 47.8h0M100.5 62.9h0M141.2 54.7h0M132.8 56.0h0M112.1 59.4h0M147.1 53.4h0M125.9 55.0h0M138.2 55.1h0M121.2 55.4h0M147.9 52.0h0M142.8 54.1h0M101.1 63.6h0M149.8 52.4h0M139.3 52.8h0M119.0 55.9h0M138.3 54.4h0M111.3 62.5h0M157.5 51.9h0M101.4 64.8h0M132.9 54.4h0M107.4 61.8h0M121.9 57.9h0M101.4 63.2h0M131.8 55.5h0M141.1 53.9h0M111.4 62.5h0M127.3 55.8h0M156.8 50.0h0M160.0 49.9h0M138.5 53.8h0M167.9 48.5h0M116.7 57.3h0M167.6 47.9h0M150.6 53.1h0M110.9 62.3h0M120.6 54.6h0M127.0 56.5h0M135.9 55.3h0M137.1 53.2h0M173.9 47.4h0M102.7 62.1h0M168.8 48.4h0M156.8 50.6h0M131.3 55.9h0M162.8 50.1h0M116.5 57.4h0M154.7 51.2h0M154.0 50.5h0M107.1 64.1h0M171.8 46.0h0M120.5 55.9h0M163.4 48.3h0M145.0 51.9h0M142.3 53.9h0M122.0 55.8h0M155.5 52.7h0M112.2 62.5h0M174.1 48.1h0M105.5 62.4h0M119.2 56.3h0M131.0 54.0h0M104.9 63.3h0M138.2 53.1h0M154.8 52.8h0M163.5 50.2h0M168.3 48.5h0M168.4 50.0h0M140.8 52.5h0M150.5 51.2h0M120.2 57.0h0M118.5 57.6h0M126.3 55.3h0M160.2 50.2h0M97.8 62.9h0M151.4 51.5h0M154.3 50.5h0M145.6 54.1h0M172.2 48.8h0M135.0 56.3h0M108.9 61.6h0M134.2 53.8h0M141.8 54.4h0M117.7 57.4h0M130.2 55.3h0M100.5 62.7h0M145.6 52.5h0M126.8 56.6h0M171.9 48.0h0M156.3 50.6h0M160.3 48.9h0M118.3 57.3h0M145.6 54.9h0M100.0 63.1h0M100.6 65.3h0M114.2 59.2h0M122.3 58.4h0M102.9 63.0h0M121.9 56.8h0M145.2 54.3h0M152.7 51.2h0M134.0 56.1h0M108.0 62.2h0M170.4 49.1h0M116.2 59.4h0M173.4 46.4h0M107.2 63.8h0M146.9 53.1h0M150.4 53.8h0M161.3 50.4h0M98.2 64.6h0M125.6 56.6h0M126.1 55.5h0M166.6 48.4h0M122.9 57.1h0M171.5 46.2h0M166.4 48.4h0M118.3 58.1h0M102.0 64.7h0M163.7 48.7h0M153.8 51.1h0M117.9 58.8h0M131.4 56.3h0M166.5 48.2h0M120.7 55.8h0M112.9 59.9h0M100.7 65.4h0M155.1 52.9h0M126.7 55.0h0M148.0 52.1h0M171.4 47.5h0M164.6 48.7h0M154.6 51.4h0M114.4 60.9h0M110.0 62.3h0M131.6 55.9h0M107.6 62.2h0M126.1 58.1h0M137.6 53.7h0M146.3 52.0h0M146.7 54.2h0M100.6 63.9h0M168.4 46.9h0M158.5 51.5h0M169.9 48.4h0M109.3 62.9h0M163.6 49.0h0M121.9 58.1h0M108.3 61.8h0M147.0 53.9h0M130.7 55.1h0M116.6 59.5h0M115.3 61.4h0M148.4 54.2h0M144.0 53.8h0M160.6 51.5h0M117.1 59.5h0M155.3 52.5h0M129.4 54.7h0M170.5 47.4h0M166.5 50.4h0M159.3 49.1h0M116.7 57.7h0M124.1 57.1h0M164.6 50.1h0M164.5 49.5h0M143.9 53.9h0M101.8 64.1h0M116.8 57.9h0M110.1 61.4h0M149.3 51.7h0M166.5 48.2h0M148.0 53.3h0M114.1 60.5h0M127.1 57.5h0M140.0 55.0h0M162.7 50.4h0M129.9 54.2h0M155.5 50.7h0M159.3 49.4h0M142.3 53.0h0M156.7 50.2h0M149.0 51.4h0M128.9 55.0h0M161.3 51.9h0M115.0 59.7h0M141.4 52.9h0M158.8 52.3h0M152.5 51.4h0M152.7 53.1h0M134.9 55.4h0M151.2 52.6h0M131.4 56.5h0M170.5 46.6h0M124.8 56.4h0M129.9 56.8h0M125.2 54.3h0M127.3 56.8h0M160.4 50.5h0M166.2 47.5h0M124.5 55.5h0M122.1 57.6h0M140.1 55.1h0M108.4 63.4h0M126.2 55.5h0M110.9 62.3h0M143.4 53.9h0M128.9 54.5h0M107.4 63.2h0M161.6 48.8h0M99.9 65.0h0M149.2 52.1h0M123.9 57.7h0M100.8 64.7h0M117.4 58.3h0M144.4 53.1h0M163.1 49.7h0M146.2 51.8h0M157.1 51.8h0M168.3 49.5h0M163.2 50.3h0M172.3 48.9h0M134.5 55.4h0M140.0 54.7h0M146.8 54.1h0M147.5 52.1h0M156.2 52.3h0M169.4 47.8h0M121.7 57.3h0M164.7 49.7h0M105.7 63.1h0M139.8 55.1h0M171.8 47.2h0M138.1 54.9h0M169.0 47.9h0M133.0 54.6h0M119.6 59.1h0M129.8 58.2h0M136.0 57.3h0M133.0 53.8h0M142.4 49.9h0M153.0 55.7h0M155.9 55.1h0M162.9 52.2h0M92.9 66.4h0M185.9 46.3h0M204.7 41.9h0M219.0 37.2h0M229.4 35.1h0M247.0 26.1h0M250.5 24.0h0" stroke="#561650" stroke-width="2.2" stroke-linecap="round" fill="none"/>
<rect x="62.3" y="19.6" width="192.2" height="51.199999999999996" fill="none" stroke="#5a5a5a" stroke-width="1"/>
<line x1="73.90" y1="70.8" x2="73.90" y2="66.3" class="tk"/>
<text x="73.90" y="81.40" class="tl" text-anchor="middle">26</text>
<line x1="104.00" y1="70.8" x2="104.00" y2="66.3" class="tk"/>
<text x="104.00" y="81.40" class="tl" text-anchor="middle">27</text>
<line x1="134.10" y1="70.8" x2="134.10" y2="66.3" class="tk"/>
<text x="134.10" y="81.40" class="tl" text-anchor="middle">28</text>
<line x1="164.20" y1="70.8" x2="164.20" y2="66.3" class="tk"/>
<text x="164.20" y="81.40" class="tl" text-anchor="middle">29</text>
<line x1="194.30" y1="70.8" x2="194.30" y2="66.3" class="tk"/>
<text x="194.30" y="81.40" class="tl" text-anchor="middle">30</text>
<line x1="224.40" y1="70.8" x2="224.40" y2="66.3" class="tk"/>
<text x="224.40" y="81.40" class="tl" text-anchor="middle">31</text>
<line x1="254.50" y1="70.8" x2="254.50" y2="66.3" class="tk"/>
<text x="254.50" y="81.40" class="tl" text-anchor="middle">32</text>
<line x1="62.3" y1="23.80" x2="66.8" y2="23.80" class="tk"/>
<text x="58.40" y="27.20" class="tl" text-anchor="end">0</text>
<line x1="62.3" y1="47.30" x2="66.8" y2="47.30" class="tk"/>
<text x="58.40" y="50.70" class="tl" text-anchor="end">-0.5</text>
<line x1="62.3" y1="70.80" x2="66.8" y2="70.80" class="tk"/>
<text x="58.40" y="74.20" class="tl" text-anchor="end">-1.0</text>
<defs><linearGradient id="cb" x1="0" x2="1" y1="0" y2="0"><stop offset="0.0" stop-color="#360e24"/><stop offset="0.05" stop-color="#45133c"/><stop offset="0.1" stop-color="#531850"/><stop offset="0.15" stop-color="#5e1c62"/><stop offset="0.2" stop-color="#682274"/><stop offset="0.25" stop-color="#712a86"/><stop offset="0.3" stop-color="#773496"/><stop offset="0.35" stop-color="#7b40a8"/><stop offset="0.4" stop-color="#7c50b8"/><stop offset="0.45" stop-color="#7a60c6"/><stop offset="0.5" stop-color="#7872d0"/><stop offset="0.55" stop-color="#7682d8"/><stop offset="0.6" stop-color="#7692dc"/><stop offset="0.65" stop-color="#78a2e0"/><stop offset="0.7" stop-color="#80b2e0"/><stop offset="0.75" stop-color="#8cc0e0"/><stop offset="0.8" stop-color="#9ccce0"/><stop offset="0.85" stop-color="#b0d8e2"/><stop offset="0.9" stop-color="#c6e2e6"/><stop offset="0.95" stop-color="#d8eaea"/><stop offset="1.0" stop-color="#e6f1f1"/></linearGradient></defs>
<rect x="37.3" y="321.0" width="640.3000000000001" height="8.0" fill="url(#cb)" stroke="#222" stroke-width="0.9"/>
<text transform="translate(37.30,342.0) scale(0.95,1.0)" class="tc" text-anchor="middle">0</text>
<line x1="177.10" y1="329.0" x2="177.10" y2="324.0" stroke="#333" stroke-width="0.7"/>
<text transform="translate(177.10,342.0) scale(0.95,1.0)" class="tc" text-anchor="middle">5</text>
<line x1="316.90" y1="329.0" x2="316.90" y2="324.0" stroke="#333" stroke-width="0.7"/>
<text transform="translate(316.90,342.0) scale(0.95,1.0)" class="tc" text-anchor="middle">10</text>
<line x1="456.70" y1="329.0" x2="456.70" y2="324.0" stroke="#333" stroke-width="0.7"/>
<text transform="translate(456.70,342.0) scale(0.95,1.0)" class="tc" text-anchor="middle">15</text>
<line x1="596.50" y1="329.0" x2="596.50" y2="324.0" stroke="#333" stroke-width="0.7"/>
<text transform="translate(596.50,342.0) scale(0.95,1.0)" class="tc" text-anchor="middle">20</text>
<text x="358" y="360.3" class="al" text-anchor="middle">Distance from A-68A (km)</text>
</svg>
</body></html>
